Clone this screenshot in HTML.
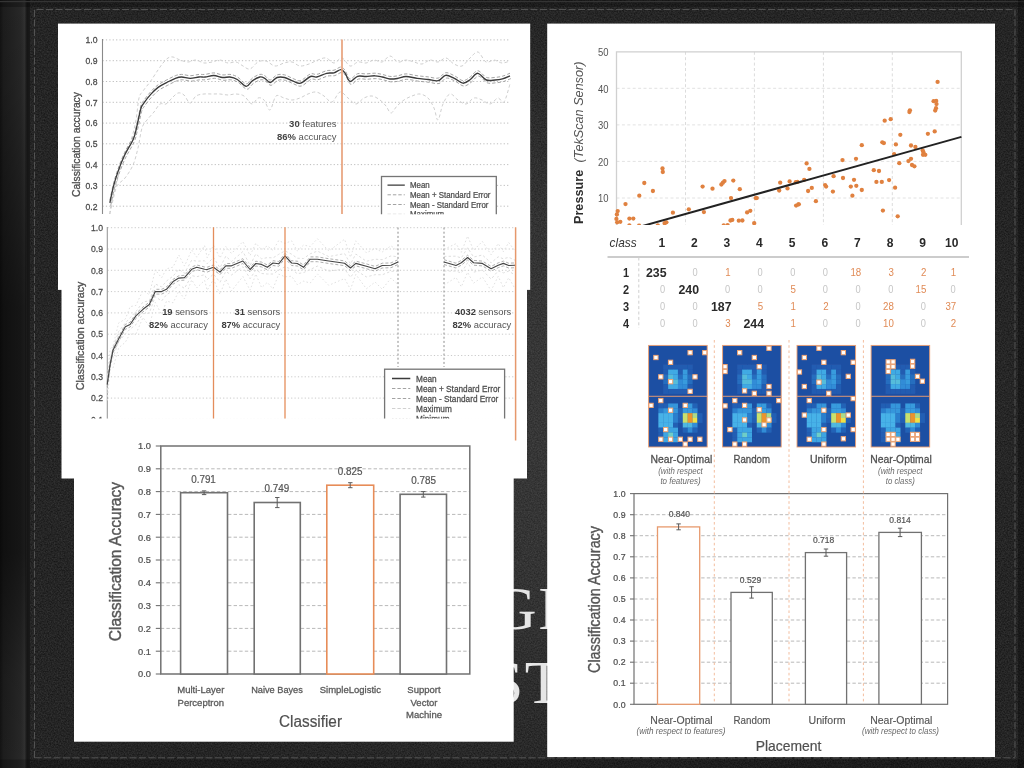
<!DOCTYPE html>
<html lang="en"><head><meta charset="utf-8"><title>Classification accuracy results</title>
<style>
html,body{margin:0;padding:0;width:1024px;height:768px;overflow:hidden;background:#262626;}
svg{position:absolute;left:0;top:0;display:block}
text{font-family:'Liberation Sans',sans-serif}
</style></head><body>
<svg width="1024" height="768" viewBox="0 0 1024 768">
<defs>
<filter id="leather" x="0" y="0" width="100%" height="100%" color-interpolation-filters="sRGB">
<feTurbulence type="fractalNoise" baseFrequency="0.7" numOctaves="2" seed="7" result="n"/>
<feColorMatrix in="n" type="matrix" values="0.17 0 0 0 0.06  0.17 0 0 0 0.06  0.17 0 0 0 0.06  0 0 0 0 1"/>
</filter>
<linearGradient id="bind" x1="0" x2="1" y1="0" y2="0">
<stop offset="0" stop-color="#131313"/><stop offset="0.12" stop-color="#1d1d1d"/>
<stop offset="0.45" stop-color="#232323"/><stop offset="0.7" stop-color="#282828"/><stop offset="0.82" stop-color="#313131"/>
<stop offset="0.9" stop-color="#151515"/><stop offset="1" stop-color="#1a1a1a"/>
</linearGradient>
<linearGradient id="bindv" x1="0" x2="0" y1="0" y2="1">
<stop offset="0" stop-color="#000" stop-opacity="0"/><stop offset="0.12" stop-color="#000" stop-opacity="0.08"/>
<stop offset="0.4" stop-color="#000" stop-opacity="0.45"/>
<stop offset="0.72" stop-color="#000" stop-opacity="0.45"/><stop offset="0.88" stop-color="#000" stop-opacity="0.08"/>
<stop offset="1" stop-color="#000" stop-opacity="0"/>
</linearGradient>
<radialGradient id="vig" gradientUnits="userSpaceOnUse" cx="535" cy="410" r="520" gradientTransform="translate(0 410) scale(1 0.82) translate(0 -410)">
<stop offset="0" stop-color="#fff" stop-opacity="0.085"/><stop offset="0.45" stop-color="#fff" stop-opacity="0.065"/>
<stop offset="0.85" stop-color="#fff" stop-opacity="0.012"/><stop offset="1" stop-color="#fff" stop-opacity="0"/>
</radialGradient>
<filter id="soft" filterUnits="userSpaceOnUse" x="0" y="0" width="1024" height="768"><feGaussianBlur stdDeviation="0.4"/></filter>
<filter id="soft2"><feGaussianBlur stdDeviation="0.5"/></filter>
<clipPath id="c1"><rect x="58" y="24" width="472" height="190.5"/></clipPath>
<clipPath id="c2"><rect x="61.5" y="214.5" width="465.5" height="264"/></clipPath>
<clipPath id="c2b"><rect x="61.5" y="214.5" width="465.5" height="204.2"/></clipPath>
<clipPath id="cs"><rect x="547.5" y="24" width="447.5" height="201"/></clipPath>
</defs>

<rect width="1024" height="768" fill="#252525"/>
<rect width="1024" height="768" filter="url(#leather)"/>
<rect width="1024" height="768" fill="url(#vig)"/>
<rect x="0" y="0" width="30" height="768" fill="url(#bind)"/>
<rect x="0" y="0" width="26" height="768" fill="url(#bindv)"/>
<rect x="0" y="0" width="1024" height="7" fill="#000" opacity="0.25"/>
<rect x="0" y="1" width="1024" height="1.2" fill="#343434"/>
<rect x="1018" y="0" width="6" height="768" fill="#000" opacity="0.3"/>
<rect x="0" y="759.5" width="1024" height="8.5" fill="#000" opacity="0.22"/>
<g stroke="#585858" stroke-width="1" fill="none" stroke-dasharray="7 2.5" opacity="0.9">
<path d="M34.5,758 V9.5 H1015 V758 "/><path d="M34.5,757.8 H1015"/>
</g>
<text x="491.7" y="629" font-size="62" fill="#e6e6e6" style="font-family:'Liberation Serif', serif" letter-spacing="1.5">GI</text>
<text x="488.7" y="703" font-size="62" fill="#e6e6e6" style="font-family:'Liberation Serif', serif" letter-spacing="1.5">ST</text>
<g filter="url(#soft)">
<rect x="58" y="23.6" width="472.2" height="266.3" fill="#fff"/>
<g clip-path="url(#c1)">
<line x1="102.5" x2="510" y1="39.9" y2="39.9" stroke="#b5b5b5" stroke-width="0.9" stroke-dasharray="1.2 2.2"/>
<text transform="translate(97.50,43.18) scale(0.95,1)" font-size="9.1" text-anchor="end" fill="#4a4a4a" stroke="#4a4a4a" stroke-width="0.25">1.0</text>
<line x1="102.5" x2="510" y1="60.7" y2="60.7" stroke="#b5b5b5" stroke-width="0.9" stroke-dasharray="1.2 2.2"/>
<text transform="translate(97.50,63.97) scale(0.95,1)" font-size="9.1" text-anchor="end" fill="#4a4a4a" stroke="#4a4a4a" stroke-width="0.25">0.9</text>
<line x1="102.5" x2="510" y1="81.5" y2="81.5" stroke="#b5b5b5" stroke-width="0.9" stroke-dasharray="1.2 2.2"/>
<text transform="translate(97.50,84.76) scale(0.95,1)" font-size="9.1" text-anchor="end" fill="#4a4a4a" stroke="#4a4a4a" stroke-width="0.25">0.8</text>
<line x1="102.5" x2="510" y1="102.3" y2="102.3" stroke="#b5b5b5" stroke-width="0.9" stroke-dasharray="1.2 2.2"/>
<text transform="translate(97.50,105.55) scale(0.95,1)" font-size="9.1" text-anchor="end" fill="#4a4a4a" stroke="#4a4a4a" stroke-width="0.25">0.7</text>
<line x1="102.5" x2="510" y1="123.1" y2="123.1" stroke="#b5b5b5" stroke-width="0.9" stroke-dasharray="1.2 2.2"/>
<text transform="translate(97.50,126.34) scale(0.95,1)" font-size="9.1" text-anchor="end" fill="#4a4a4a" stroke="#4a4a4a" stroke-width="0.25">0.6</text>
<line x1="102.5" x2="510" y1="143.8" y2="143.8" stroke="#b5b5b5" stroke-width="0.9" stroke-dasharray="1.2 2.2"/>
<text transform="translate(97.50,147.13) scale(0.95,1)" font-size="9.1" text-anchor="end" fill="#4a4a4a" stroke="#4a4a4a" stroke-width="0.25">0.5</text>
<line x1="102.5" x2="510" y1="164.6" y2="164.6" stroke="#b5b5b5" stroke-width="0.9" stroke-dasharray="1.2 2.2"/>
<text transform="translate(97.50,167.92) scale(0.95,1)" font-size="9.1" text-anchor="end" fill="#4a4a4a" stroke="#4a4a4a" stroke-width="0.25">0.4</text>
<line x1="102.5" x2="510" y1="185.4" y2="185.4" stroke="#b5b5b5" stroke-width="0.9" stroke-dasharray="1.2 2.2"/>
<text transform="translate(97.50,188.71) scale(0.95,1)" font-size="9.1" text-anchor="end" fill="#4a4a4a" stroke="#4a4a4a" stroke-width="0.25">0.3</text>
<line x1="102.5" x2="510" y1="206.2" y2="206.2" stroke="#b5b5b5" stroke-width="0.9" stroke-dasharray="1.2 2.2"/>
<text transform="translate(97.50,209.50) scale(0.95,1)" font-size="9.1" text-anchor="end" fill="#4a4a4a" stroke="#4a4a4a" stroke-width="0.25">0.2</text>
<line x1="102.5" x2="102.5" y1="39" y2="214" stroke="#8a8a8a" stroke-width="1.1"/>
<text transform="translate(80.00,144.50) rotate(-90) scale(0.93,1)" font-size="11.1" text-anchor="middle" fill="#505050" stroke="#505050" stroke-width="0.35">Calssification accuracy</text>
<path d="M109.5,214.0 C109.9,211.7 110.8,205.3 112.0,200.0 C113.2,194.7 115.3,188.7 117.0,182.0 C118.7,175.3 119.7,167.0 122.0,160.0 C124.3,153.0 128.7,146.7 131.0,140.0 C133.3,133.3 134.7,127.0 136.0,120.0 C137.3,113.0 137.8,102.8 139.0,98.0 C140.2,93.2 141.2,93.7 143.0,91.0 C144.8,88.3 147.5,85.5 150.0,82.0 C152.5,78.5 155.8,73.2 158.0,70.0 C160.2,66.8 161.3,65.0 163.0,63.0 C164.7,61.0 166.3,59.0 168.0,58.0 C169.7,57.0 171.0,56.7 173.0,57.0 C175.0,57.3 177.5,59.2 180.0,60.0 C182.5,60.8 185.3,62.0 188.0,62.0 C190.7,62.0 193.3,59.8 196.0,60.0 C198.7,60.2 201.3,62.7 204.0,63.0 C206.7,63.3 209.3,62.5 212.0,62.0 C214.7,61.5 217.3,59.8 220.0,60.0 C222.7,60.2 225.3,62.7 228.0,63.0 C230.7,63.3 233.5,61.5 236.0,62.0 C238.5,62.5 240.7,64.8 243.0,66.0 C245.3,67.2 247.5,69.7 250.0,69.0 C252.5,68.3 255.3,63.3 258.0,62.0 C260.7,60.7 263.2,60.3 266.0,61.0 C268.8,61.7 272.0,65.7 275.0,66.0 C278.0,66.3 281.2,63.7 284.0,63.0 C286.8,62.3 289.3,61.5 292.0,62.0 C294.7,62.5 297.2,65.7 300.0,66.0 C302.8,66.3 306.0,65.0 309.0,64.0 C312.0,63.0 315.2,61.0 318.0,60.0 C320.8,59.0 323.3,57.5 326.0,58.0 C328.7,58.5 331.3,63.0 334.0,63.0 C336.7,63.0 339.3,57.5 342.0,58.0 C344.7,58.5 347.3,65.3 350.0,66.0 C352.7,66.7 355.3,62.5 358.0,62.0 C360.7,61.5 363.3,63.3 366.0,63.0 C368.7,62.7 371.3,60.2 374.0,60.0 C376.7,59.8 379.3,62.7 382.0,62.0 C384.7,61.3 387.3,56.0 390.0,56.0 C392.7,56.0 395.3,61.3 398.0,62.0 C400.7,62.7 403.3,60.0 406.0,60.0 C408.7,60.0 411.3,61.3 414.0,62.0 C416.7,62.7 419.3,64.3 422.0,64.0 C424.7,63.7 427.3,60.3 430.0,60.0 C432.7,59.7 435.3,62.3 438.0,62.0 C440.7,61.7 443.3,57.7 446.0,58.0 C448.7,58.3 451.3,62.7 454.0,64.0 C456.7,65.3 459.3,67.0 462.0,66.0 C464.7,65.0 467.3,60.3 470.0,58.0 C472.7,55.7 475.3,51.3 478.0,52.0 C480.7,52.7 483.3,60.7 486.0,62.0 C488.7,63.3 491.3,59.8 494.0,60.0 C496.7,60.2 499.3,62.8 502.0,63.0 C504.7,63.2 508.7,61.3 510.0,61.0" fill="none" stroke="#cfcfcf" stroke-width="1" stroke-dasharray="3.2 2.4"/>
<path d="M110.0,214.0 C110.5,211.7 111.8,204.7 113.0,200.0 C114.2,195.3 115.0,189.7 117.0,186.0 C119.0,182.3 122.3,181.5 125.0,178.0 C127.7,174.5 130.8,170.0 133.0,165.0 C135.2,160.0 136.5,154.2 138.0,148.0 C139.5,141.8 140.5,132.7 142.0,128.0 C143.5,123.3 145.0,122.7 147.0,120.0 C149.0,117.3 151.8,114.7 154.0,112.0 C156.2,109.3 158.0,105.3 160.0,104.0 C162.0,102.7 164.0,105.0 166.0,104.0 C168.0,103.0 170.0,99.8 172.0,98.0 C174.0,96.2 176.0,93.5 178.0,93.0 C180.0,92.5 182.0,93.3 184.0,95.0 C186.0,96.7 188.0,102.8 190.0,103.0 C192.0,103.2 193.7,97.5 196.0,96.0 C198.3,94.5 201.3,94.3 204.0,94.0 C206.7,93.7 209.3,94.0 212.0,94.0 C214.7,94.0 217.3,93.8 220.0,94.0 C222.7,94.2 225.3,95.0 228.0,95.0 C230.7,95.0 233.3,93.8 236.0,94.0 C238.7,94.2 241.3,94.3 244.0,96.0 C246.7,97.7 249.7,103.7 252.0,104.0 C254.3,104.3 256.0,98.7 258.0,98.0 C260.0,97.3 262.0,98.0 264.0,100.0 C266.0,102.0 268.0,110.7 270.0,110.0 C272.0,109.3 273.7,98.0 276.0,96.0 C278.3,94.0 281.3,97.3 284.0,98.0 C286.7,98.7 289.3,100.0 292.0,100.0 C294.7,100.0 297.3,99.0 300.0,98.0 C302.7,97.0 305.3,95.0 308.0,94.0 C310.7,93.0 313.3,91.7 316.0,92.0 C318.7,92.3 321.3,94.3 324.0,96.0 C326.7,97.7 329.3,102.7 332.0,102.0 C334.7,101.3 337.3,92.7 340.0,92.0 C342.7,91.3 345.3,96.0 348.0,98.0 C350.7,100.0 353.3,104.0 356.0,104.0 C358.7,104.0 361.3,99.3 364.0,98.0 C366.7,96.7 369.3,95.7 372.0,96.0 C374.7,96.3 377.7,98.3 380.0,100.0 C382.3,101.7 384.2,103.8 386.0,106.0 C387.8,108.2 389.2,113.0 391.0,113.0 C392.8,113.0 394.8,108.2 397.0,106.0 C399.2,103.8 401.5,101.7 404.0,100.0 C406.5,98.3 409.3,97.0 412.0,96.0 C414.7,95.0 417.3,93.7 420.0,94.0 C422.7,94.3 425.7,95.7 428.0,98.0 C430.3,100.3 432.3,104.3 434.0,108.0 C435.7,111.7 436.5,120.7 438.0,120.0 C439.5,119.3 441.0,108.3 443.0,104.0 C445.0,99.7 447.5,94.7 450.0,94.0 C452.5,93.3 455.3,98.3 458.0,100.0 C460.7,101.7 463.3,104.3 466.0,104.0 C468.7,103.7 471.3,98.7 474.0,98.0 C476.7,97.3 479.3,99.0 482.0,100.0 C484.7,101.0 487.3,104.3 490.0,104.0 C492.7,103.7 495.7,98.3 498.0,98.0 C500.3,97.7 502.0,104.3 504.0,102.0 C506.0,99.7 509.0,87.0 510.0,84.0" fill="none" stroke="#cfcfcf" stroke-width="1" stroke-dasharray="3.2 2.4"/>
<path d="M109.9,200.2 C110.5,197.4 112.2,188.5 113.6,183.3 C114.9,178.1 116.2,174.2 118.0,169.0 C119.8,163.8 122.1,157.8 124.7,152.4 C127.3,147.0 131.3,141.2 133.4,136.3 C135.5,131.4 135.9,127.7 137.1,122.7 C138.3,117.7 139.8,109.7 140.8,106.1 C141.8,102.5 141.7,103.6 143.3,101.2 C145.0,98.8 148.2,94.5 150.7,91.8 C153.2,89.1 155.4,86.8 158.1,84.8 C160.8,82.8 163.9,81.4 166.8,79.9 C169.7,78.4 172.9,76.6 175.4,75.7 C177.9,74.8 179.1,74.4 181.6,74.4 C184.1,74.4 187.4,75.7 190.3,75.7 C193.2,75.7 196.5,74.6 199.0,74.4 C201.5,74.2 202.6,74.7 205.1,74.4 C207.6,74.2 210.9,72.8 213.8,72.9 C216.7,73.0 219.8,74.7 222.5,74.9 C225.2,75.2 227.4,74.1 229.9,74.4 C232.4,74.7 234.6,75.3 237.3,76.9 C240.0,78.5 243.7,83.6 246.2,83.8 C248.7,84.0 250.1,79.7 252.4,78.1 C254.7,76.5 257.7,74.8 259.8,74.4 C261.9,74.0 263.1,74.8 264.8,75.7 C266.5,76.6 268.1,80.0 270.2,79.9 C272.2,79.8 274.7,75.7 277.1,74.9 C279.5,74.1 281.9,74.3 284.6,74.9 C287.3,75.5 290.5,77.7 293.2,78.6 C295.9,79.6 297.7,81.4 300.6,80.6 C303.5,79.8 307.8,74.9 310.5,73.9 C313.2,72.9 314.0,74.9 316.7,74.4 C319.4,73.9 323.7,71.4 326.6,70.7 C329.5,70.0 331.6,70.8 334.0,70.2 C336.4,69.6 339.1,66.9 341.0,67.0 C342.9,67.1 343.7,68.7 345.2,70.7 C346.7,72.7 348.0,78.4 350.1,78.9 C352.2,79.4 354.9,74.5 357.6,73.7 C360.3,72.9 363.3,74.0 366.2,73.9 C369.1,73.8 372.2,73.1 374.9,73.2 C377.6,73.3 379.8,73.9 382.3,74.4 C384.8,74.9 387.4,76.2 389.9,76.4 C392.4,76.7 394.6,76.3 397.3,75.9 C400.0,75.5 402.7,73.9 406.0,73.9 C409.3,73.9 413.4,75.2 417.1,75.7 C420.8,76.2 424.8,76.5 428.3,76.9 C431.8,77.3 435.3,78.8 438.2,78.1 C441.1,77.4 442.9,73.1 445.6,72.7 C448.3,72.3 451.4,74.4 454.3,75.7 C457.2,77.0 460.2,80.4 462.9,80.6 C465.6,80.8 467.8,78.6 470.3,76.9 C472.8,75.2 475.1,70.6 477.8,70.7 C480.5,70.8 483.5,76.3 486.4,77.4 C489.3,78.5 492.4,77.6 495.1,77.4 C497.8,77.2 500.0,76.9 502.5,76.2 C505.0,75.5 508.8,73.7 510.0,73.2" fill="none" stroke="#9a9a9a" stroke-width="0.9" stroke-dasharray="3.4 2"/>
<path d="M110.7,205.6 C111.3,202.8 113.0,193.9 114.4,188.7 C115.7,183.5 116.9,179.6 118.8,174.4 C120.7,169.2 122.9,163.2 125.5,157.8 C128.1,152.4 132.1,146.7 134.2,141.7 C136.3,136.8 136.7,133.1 137.9,128.1 C139.1,123.1 140.6,115.1 141.6,111.5 C142.6,107.9 142.5,109.0 144.1,106.6 C145.8,104.2 149.0,99.9 151.5,97.2 C154.0,94.5 156.2,92.2 158.9,90.2 C161.6,88.2 164.7,86.8 167.6,85.3 C170.5,83.8 173.7,82.0 176.2,81.1 C178.7,80.2 179.9,79.8 182.4,79.8 C184.9,79.8 188.2,81.1 191.1,81.1 C194.0,81.1 197.3,80.0 199.8,79.8 C202.3,79.6 203.4,80.0 205.9,79.8 C208.4,79.5 211.7,78.2 214.6,78.3 C217.5,78.4 220.6,80.0 223.3,80.3 C226.0,80.5 228.2,79.5 230.7,79.8 C233.2,80.1 235.4,80.7 238.1,82.3 C240.8,83.9 244.5,89.0 247.0,89.2 C249.5,89.4 250.9,85.1 253.2,83.5 C255.5,81.9 258.5,80.2 260.6,79.8 C262.7,79.4 263.9,80.2 265.6,81.1 C267.3,82.0 268.9,85.4 271.0,85.3 C273.1,85.2 275.5,81.1 277.9,80.3 C280.3,79.5 282.7,79.7 285.4,80.3 C288.1,80.9 291.3,83.0 294.0,84.0 C296.7,85.0 298.5,86.8 301.4,86.0 C304.3,85.2 308.6,80.3 311.3,79.3 C314.0,78.3 314.8,80.3 317.5,79.8 C320.2,79.3 324.5,76.8 327.4,76.1 C330.3,75.4 332.4,76.2 334.8,75.6 C337.2,75.0 339.9,72.3 341.8,72.4 C343.7,72.5 344.5,74.1 346.0,76.1 C347.5,78.1 348.8,83.8 350.9,84.3 C353.0,84.8 355.7,79.9 358.4,79.1 C361.1,78.3 364.1,79.4 367.0,79.3 C369.9,79.2 373.0,78.5 375.7,78.6 C378.4,78.7 380.6,79.3 383.1,79.8 C385.6,80.3 388.2,81.5 390.7,81.8 C393.2,82.0 395.4,81.7 398.1,81.3 C400.8,80.9 403.5,79.3 406.8,79.3 C410.1,79.3 414.2,80.6 417.9,81.1 C421.6,81.6 425.6,81.9 429.1,82.3 C432.6,82.7 436.1,84.2 439.0,83.5 C441.9,82.8 443.7,78.5 446.4,78.1 C449.1,77.7 452.2,79.8 455.1,81.1 C458.0,82.4 461.0,85.8 463.7,86.0 C466.4,86.2 468.6,84.0 471.1,82.3 C473.6,80.6 475.9,76.0 478.6,76.1 C481.3,76.2 484.3,81.7 487.2,82.8 C490.1,83.9 493.2,83.0 495.9,82.8 C498.6,82.6 500.8,82.3 503.3,81.6 C505.8,80.9 509.6,79.1 510.8,78.6" fill="none" stroke="#9a9a9a" stroke-width="0.9" stroke-dasharray="3.4 2"/>
<path d="M109.9,202.8 C110.5,200.0 112.2,191.1 113.6,185.9 C114.9,180.7 116.2,176.8 118.0,171.6 C119.8,166.4 122.1,160.4 124.7,155.0 C127.3,149.6 131.3,143.8 133.4,138.9 C135.5,134.0 135.9,130.3 137.1,125.3 C138.3,120.3 139.8,112.3 140.8,108.7 C141.8,105.1 141.7,106.2 143.3,103.8 C145.0,101.4 148.2,97.1 150.7,94.4 C153.2,91.7 155.4,89.4 158.1,87.4 C160.8,85.4 163.9,84.0 166.8,82.5 C169.7,81.0 172.9,79.2 175.4,78.3 C177.9,77.4 179.1,77.0 181.6,77.0 C184.1,77.0 187.4,78.3 190.3,78.3 C193.2,78.3 196.5,77.2 199.0,77.0 C201.5,76.8 202.6,77.2 205.1,77.0 C207.6,76.8 210.9,75.4 213.8,75.5 C216.7,75.6 219.8,77.2 222.5,77.5 C225.2,77.8 227.4,76.7 229.9,77.0 C232.4,77.3 234.6,77.9 237.3,79.5 C240.0,81.1 243.7,86.2 246.2,86.4 C248.7,86.6 250.1,82.3 252.4,80.7 C254.7,79.1 257.7,77.4 259.8,77.0 C261.9,76.6 263.1,77.4 264.8,78.3 C266.5,79.2 268.1,82.6 270.2,82.5 C272.2,82.4 274.7,78.3 277.1,77.5 C279.5,76.7 281.9,76.9 284.6,77.5 C287.3,78.1 290.5,80.2 293.2,81.2 C295.9,82.2 297.7,84.0 300.6,83.2 C303.5,82.4 307.8,77.5 310.5,76.5 C313.2,75.5 314.0,77.5 316.7,77.0 C319.4,76.5 323.7,74.0 326.6,73.3 C329.5,72.6 331.6,73.4 334.0,72.8 C336.4,72.2 339.1,69.5 341.0,69.6 C342.9,69.7 343.7,71.3 345.2,73.3 C346.7,75.3 348.0,81.0 350.1,81.5 C352.2,82.0 354.9,77.1 357.6,76.3 C360.3,75.5 363.3,76.6 366.2,76.5 C369.1,76.4 372.2,75.7 374.9,75.8 C377.6,75.9 379.8,76.5 382.3,77.0 C384.8,77.5 387.4,78.8 389.9,79.0 C392.4,79.2 394.6,78.9 397.3,78.5 C400.0,78.1 402.7,76.5 406.0,76.5 C409.3,76.5 413.4,77.8 417.1,78.3 C420.8,78.8 424.8,79.1 428.3,79.5 C431.8,79.9 435.3,81.4 438.2,80.7 C441.1,80.0 442.9,75.7 445.6,75.3 C448.3,74.9 451.4,77.0 454.3,78.3 C457.2,79.6 460.2,83.0 462.9,83.2 C465.6,83.4 467.8,81.2 470.3,79.5 C472.8,77.8 475.1,73.2 477.8,73.3 C480.5,73.4 483.5,78.9 486.4,80.0 C489.3,81.1 492.4,80.2 495.1,80.0 C497.8,79.8 500.0,79.5 502.5,78.8 C505.0,78.1 508.8,76.3 510.0,75.8" fill="none" stroke="#3a3a3a" stroke-width="1.35" stroke-linejoin="round"/>
<line x1="342" x2="342" y1="39.5" y2="214" stroke="#e8a27c" stroke-width="1.7"/>
<text transform="translate(336.50,127.20) scale(1.02,1)" font-size="9.3" text-anchor="end" fill="#555"><tspan font-weight="bold" fill="#444">30</tspan> features</text>
<text transform="translate(336.50,139.60) scale(1.02,1)" font-size="9.3" text-anchor="end" fill="#555"><tspan font-weight="bold" fill="#444">86%</tspan> accuracy</text>
<rect x="381.5" y="176.5" width="114.8" height="60" fill="#fff" stroke="#747474" stroke-width="1.3"/>
<line x1="387.5" x2="404.8" y1="185.1" y2="185.1" stroke="#3a3a3a" stroke-width="1.4"/>
<text transform="translate(410.00,188.12) scale(0.94,1)" font-size="8.4" text-anchor="start" fill="#4d4d4d" stroke="#4d4d4d" stroke-width="0.25">Mean</text>
<line x1="387.5" x2="404.8" y1="194.8" y2="194.8" stroke="#999" stroke-width="0.9" stroke-dasharray="3.4 2"/>
<text transform="translate(410.00,197.82) scale(0.94,1)" font-size="8.4" text-anchor="start" fill="#4d4d4d" stroke="#4d4d4d" stroke-width="0.25">Mean + Standard Error</text>
<line x1="387.5" x2="404.8" y1="204.5" y2="204.5" stroke="#999" stroke-width="0.9" stroke-dasharray="3.4 2"/>
<text transform="translate(410.00,207.52) scale(0.94,1)" font-size="8.4" text-anchor="start" fill="#4d4d4d" stroke="#4d4d4d" stroke-width="0.25">Mean - Standard Error</text>
<line x1="387.5" x2="404.8" y1="214.2" y2="214.2" stroke="#ccc" stroke-width="0.9" stroke-dasharray="3.4 2"/>
<text transform="translate(410.00,217.22) scale(0.94,1)" font-size="8.4" text-anchor="start" fill="#4d4d4d" stroke="#4d4d4d" stroke-width="0.25">Maximum</text>
<line x1="387.5" x2="404.8" y1="223.9" y2="223.9" stroke="#ddd" stroke-width="0.9" stroke-dasharray="1.5 2"/>
<text transform="translate(410.00,226.92) scale(0.94,1)" font-size="8.4" text-anchor="start" fill="#4d4d4d" stroke="#4d4d4d" stroke-width="0.25">Minimum</text>
</g>
<rect x="61.5" y="214.5" width="465.5" height="264" fill="#fff"/>
<g clip-path="url(#c2b)">
<line x1="107.5" x2="516" y1="227.7" y2="227.7" stroke="#c4c4c4" stroke-width="0.9" stroke-dasharray="1.2 2.2"/>
<text transform="translate(103.00,230.98) scale(0.95,1)" font-size="9.1" text-anchor="end" fill="#4d4d4d" stroke="#4d4d4d" stroke-width="0.25">1.0</text>
<line x1="107.5" x2="516" y1="249.0" y2="249.0" stroke="#c4c4c4" stroke-width="0.9" stroke-dasharray="1.2 2.2"/>
<text transform="translate(103.00,252.28) scale(0.95,1)" font-size="9.1" text-anchor="end" fill="#4d4d4d" stroke="#4d4d4d" stroke-width="0.25">0.9</text>
<line x1="107.5" x2="516" y1="270.3" y2="270.3" stroke="#c4c4c4" stroke-width="0.9" stroke-dasharray="1.2 2.2"/>
<text transform="translate(103.00,273.58) scale(0.95,1)" font-size="9.1" text-anchor="end" fill="#4d4d4d" stroke="#4d4d4d" stroke-width="0.25">0.8</text>
<line x1="107.5" x2="516" y1="291.6" y2="291.6" stroke="#c4c4c4" stroke-width="0.9" stroke-dasharray="1.2 2.2"/>
<text transform="translate(103.00,294.88) scale(0.95,1)" font-size="9.1" text-anchor="end" fill="#4d4d4d" stroke="#4d4d4d" stroke-width="0.25">0.7</text>
<line x1="107.5" x2="516" y1="312.9" y2="312.9" stroke="#c4c4c4" stroke-width="0.9" stroke-dasharray="1.2 2.2"/>
<text transform="translate(103.00,316.18) scale(0.95,1)" font-size="9.1" text-anchor="end" fill="#4d4d4d" stroke="#4d4d4d" stroke-width="0.25">0.6</text>
<line x1="107.5" x2="516" y1="334.2" y2="334.2" stroke="#c4c4c4" stroke-width="0.9" stroke-dasharray="1.2 2.2"/>
<text transform="translate(103.00,337.48) scale(0.95,1)" font-size="9.1" text-anchor="end" fill="#4d4d4d" stroke="#4d4d4d" stroke-width="0.25">0.5</text>
<line x1="107.5" x2="516" y1="355.5" y2="355.5" stroke="#c4c4c4" stroke-width="0.9" stroke-dasharray="1.2 2.2"/>
<text transform="translate(103.00,358.78) scale(0.95,1)" font-size="9.1" text-anchor="end" fill="#4d4d4d" stroke="#4d4d4d" stroke-width="0.25">0.4</text>
<line x1="107.5" x2="516" y1="376.8" y2="376.8" stroke="#c4c4c4" stroke-width="0.9" stroke-dasharray="1.2 2.2"/>
<text transform="translate(103.00,380.08) scale(0.95,1)" font-size="9.1" text-anchor="end" fill="#4d4d4d" stroke="#4d4d4d" stroke-width="0.25">0.3</text>
<line x1="107.5" x2="516" y1="398.1" y2="398.1" stroke="#c4c4c4" stroke-width="0.9" stroke-dasharray="1.2 2.2"/>
<text transform="translate(103.00,401.38) scale(0.95,1)" font-size="9.1" text-anchor="end" fill="#4d4d4d" stroke="#4d4d4d" stroke-width="0.25">0.2</text>
<line x1="107.5" x2="516" y1="419.4" y2="419.4" stroke="#c4c4c4" stroke-width="0.9" stroke-dasharray="1.2 2.2"/>
<text transform="translate(103.00,422.68) scale(0.95,1)" font-size="9.1" text-anchor="end" fill="#4d4d4d" stroke="#4d4d4d" stroke-width="0.25">0.1</text>
<line x1="107.3" x2="107.3" y1="227" y2="419" stroke="#9a9a9a" stroke-width="1.1"/>
<text transform="translate(83.80,336.00) rotate(-90) scale(0.93,1)" font-size="11.5" text-anchor="middle" fill="#505050" stroke="#505050" stroke-width="0.35">Classification accuracy</text>
<line x1="398" x2="398" y1="227.5" y2="367" stroke="#8c8c8c" stroke-width="1" stroke-dasharray="2 2.2"/>
<line x1="444" x2="444" y1="227.5" y2="367" stroke="#8c8c8c" stroke-width="1" stroke-dasharray="2 2.2"/>
<path d="M107.2,378.7 L110.1,349.2 L113.0,346.0 L118.7,322.9 L125.3,319.1 L130.1,306.7 L135.9,305.4 L143.0,290.4 L149.3,294.7 L155.3,269.9 L161.6,277.8 L166.5,268.8 L173.1,267.1 L178.8,255.0 L184.5,266.1 L191.7,250.0 L196.8,257.2 L204.6,245.5 L207.2,257.8 L213.5,245.2 L220.0,258.0 L225.8,246.6 L231.5,253.5 L242.9,241.6 L250.1,255.5 L255.8,243.2 L261.6,249.6 L267.3,245.9 L273.0,250.3 L278.7,240.6 L285.0,243.4 L291.6,240.8 L297.3,251.0 L303.6,245.0 L310.2,246.5 L317.4,238.7 L328.8,251.0 L344.6,239.2 L350.5,257.2 L355.8,240.8 L366.4,252.8 L375.1,248.5 L382.2,252.0 L391.0,245.8 L398.0,250.9" fill="none" stroke="#e0e0e0" stroke-width="1" stroke-dasharray="1.6 2.2"/>
<path d="M107.2,400.5 L110.1,369.7 L113.0,368.0 L118.7,347.8 L125.3,342.3 L130.1,333.6 L135.9,334.1 L143.0,317.5 L149.3,326.6 L155.3,302.4 L161.6,314.5 L166.5,301.1 L173.1,302.8 L178.8,291.2 L184.5,298.9 L191.7,279.8 L196.8,288.0 L204.6,280.3 L207.2,290.3 L213.5,279.1 L220.0,294.4 L225.8,279.1 L231.5,290.9 L242.9,276.5 L250.1,290.2 L255.8,274.0 L261.6,287.6 L267.3,282.4 L273.0,288.9 L278.7,274.1 L285.0,276.8 L291.6,276.2 L297.3,284.7 L303.6,281.1 L310.2,283.1 L317.4,273.9 L328.8,285.3 L344.6,278.5 L350.5,289.4 L355.8,274.4 L366.4,288.8 L375.1,282.0 L382.2,289.2 L391.0,278.1 L398.0,284.6" fill="none" stroke="#e0e0e0" stroke-width="1" stroke-dasharray="1.6 2.2"/>
<path d="M107.2,381.8 L110.1,357.9 L113.0,348.2 L118.7,331.4 L125.3,323.0 L130.1,317.8 L135.9,311.6 L143.0,302.0 L149.3,300.8 L155.3,284.0 L161.6,286.9 L166.5,281.0 L173.1,276.1 L178.8,269.3 L184.5,273.3 L191.7,260.1 L196.8,261.2 L204.6,260.8 L207.2,263.7 L213.5,257.6 L220.0,267.7 L225.8,256.2 L231.5,261.4 L242.9,251.5 L250.1,265.4 L255.8,253.9 L261.6,258.8 L267.3,257.6 L273.0,257.9 L278.7,254.3 L285.0,250.9 L291.6,254.2 L297.3,258.2 L303.6,258.5 L310.2,253.8 L317.4,251.1 L328.8,256.6 L344.6,253.6 L350.5,264.0 L355.8,254.0 L366.4,261.3 L375.1,259.2 L382.2,259.7 L391.0,255.9 L398.0,256.8" fill="none" stroke="#dedede" stroke-width="1" stroke-dasharray="2.4 2.2"/>
<path d="M107.2,390.5 L110.1,367.2 L113.0,357.7 L118.7,341.3 L125.3,334.0 L130.1,329.1 L135.9,324.7 L143.0,313.7 L149.3,313.1 L155.3,296.6 L161.6,301.0 L166.5,294.7 L173.1,290.7 L178.8,284.7 L184.5,288.4 L191.7,275.6 L196.8,276.7 L204.6,274.7 L207.2,279.7 L213.5,274.1 L220.0,282.2 L225.8,271.5 L231.5,275.0 L242.9,266.7 L250.1,278.7 L255.8,269.9 L261.6,273.5 L267.3,274.0 L273.0,274.0 L278.7,270.1 L285.0,266.8 L291.6,269.2 L297.3,273.7 L303.6,272.6 L310.2,269.5 L317.4,266.1 L328.8,271.1 L344.6,269.0 L350.5,277.3 L355.8,270.3 L366.4,276.9 L375.1,274.7 L382.2,274.8 L391.0,271.3 L398.0,271.4" fill="none" stroke="#dedede" stroke-width="1" stroke-dasharray="2.4 2.2"/>
<path d="M107.2,382.3 L110.1,362.3 L113.0,348.0 L118.7,336.5 L125.3,324.5 L130.1,322.2 L135.9,313.6 L143.0,307.0 L149.3,302.2 L155.3,289.3 L161.6,289.3 L166.5,287.0 L173.1,279.3 L178.8,275.8 L184.5,275.3 L191.7,267.0 L196.8,265.0 L204.6,267.0 L207.2,267.2 L213.5,265.0 L220.0,269.8 L225.8,263.5 L231.5,263.5 L242.9,258.7 L250.1,267.2 L255.8,261.2 L261.6,262.1 L267.3,265.0 L273.0,260.7 L278.7,261.5 L285.0,253.5 L291.6,260.7 L297.3,261.2 L303.6,265.0 L310.2,256.9 L317.4,256.9 L328.8,258.7 L344.6,260.9 L350.5,265.7 L355.8,261.1 L366.4,263.9 L375.1,266.4 L382.2,263.2 L391.0,262.9 L398.0,259.7" fill="none" stroke="#a6a6a6" stroke-width="0.9" stroke-dasharray="3 2"/>
<path d="M107.2,387.1 L110.1,367.1 L113.0,352.8 L118.7,341.3 L125.3,329.3 L130.1,327.0 L135.9,318.4 L143.0,311.8 L149.3,307.0 L155.3,294.1 L161.6,294.1 L166.5,291.8 L173.1,284.1 L178.8,280.6 L184.5,280.1 L191.7,271.8 L196.8,269.8 L204.6,271.8 L207.2,272.0 L213.5,269.8 L220.0,274.6 L225.8,268.3 L231.5,268.3 L242.9,263.5 L250.1,272.0 L255.8,266.0 L261.6,266.9 L267.3,269.8 L273.0,265.5 L278.7,266.3 L285.0,258.3 L291.6,265.5 L297.3,266.0 L303.6,269.8 L310.2,261.7 L317.4,261.7 L328.8,263.5 L344.6,265.7 L350.5,270.5 L355.8,265.9 L366.4,268.7 L375.1,271.2 L382.2,268.0 L391.0,267.7 L398.0,264.5" fill="none" stroke="#a6a6a6" stroke-width="0.9" stroke-dasharray="3 2"/>
<path d="M107.2,384.6 L110.1,364.6 L113.0,350.3 L118.7,338.8 L125.3,326.8 L130.1,324.5 L135.9,315.9 L143.0,309.3 L149.3,304.5 L155.3,291.6 L161.6,291.6 L166.5,289.3 L173.1,281.6 L178.8,278.1 L184.5,277.6 L191.7,269.3 L196.8,267.3 L204.6,269.3 L207.2,269.5 L213.5,267.3 L220.0,272.1 L225.8,265.8 L231.5,265.8 L242.9,261.0 L250.1,269.5 L255.8,263.5 L261.6,264.4 L267.3,267.3 L273.0,263.0 L278.7,263.8 L285.0,255.8 L291.6,263.0 L297.3,263.5 L303.6,267.3 L310.2,259.2 L317.4,259.2 L328.8,261.0 L344.6,263.2 L350.5,268.0 L355.8,263.4 L366.4,266.2 L375.1,268.7 L382.2,265.5 L391.0,265.2 L398.0,262.0" fill="none" stroke="#444" stroke-width="1.15" stroke-linejoin="round"/>
<path d="M444.0,249.3 L456.0,243.7 L461.3,252.3 L467.6,236.1 L473.6,250.3 L482.4,241.4 L491.1,254.7 L498.2,243.6 L503.4,251.6 L508.7,242.5 L515.0,250.8" fill="none" stroke="#e0e0e0" stroke-width="1" stroke-dasharray="1.6 2.2"/>
<path d="M444.0,285.1 L456.0,277.4 L461.3,286.8 L467.6,272.3 L473.6,283.2 L482.4,276.9 L491.1,290.6 L498.2,276.3 L503.4,287.7 L508.7,277.7 L515.0,288.7" fill="none" stroke="#e0e0e0" stroke-width="1" stroke-dasharray="1.6 2.2"/>
<path d="M444.0,256.4 L456.0,256.2 L461.3,258.0 L467.6,247.8 L473.6,257.0 L482.4,255.0 L491.1,262.9 L498.2,256.8 L503.4,258.8 L508.7,257.3 L515.0,260.2" fill="none" stroke="#dedede" stroke-width="1" stroke-dasharray="2.4 2.2"/>
<path d="M444.0,271.1 L456.0,271.1 L461.3,273.0 L467.6,262.6 L473.6,272.2 L482.4,270.0 L491.1,279.1 L498.2,270.9 L503.4,272.9 L508.7,271.2 L515.0,274.9" fill="none" stroke="#dedede" stroke-width="1" stroke-dasharray="2.4 2.2"/>
<path d="M444.0,259.7 L456.0,263.2 L461.3,260.4 L467.6,255.2 L473.6,260.4 L482.4,261.1 L491.1,266.4 L498.2,262.9 L503.4,261.1 L508.7,263.2 L515.0,262.9" fill="none" stroke="#a6a6a6" stroke-width="0.9" stroke-dasharray="3 2"/>
<path d="M444.0,264.5 L456.0,268.0 L461.3,265.2 L467.6,260.0 L473.6,265.2 L482.4,265.9 L491.1,271.2 L498.2,267.7 L503.4,265.9 L508.7,268.0 L515.0,267.7" fill="none" stroke="#a6a6a6" stroke-width="0.9" stroke-dasharray="3 2"/>
<path d="M444.0,262.0 L456.0,265.5 L461.3,262.7 L467.6,257.5 L473.6,262.7 L482.4,263.4 L491.1,268.7 L498.2,265.2 L503.4,263.4 L508.7,265.5 L515.0,265.2" fill="none" stroke="#444" stroke-width="1.15" stroke-linejoin="round"/>
<line x1="213.5" x2="213.5" y1="227.3" y2="419" stroke="#e07a3f" stroke-width="1.3" opacity="0.85"/>
<line x1="285" x2="285" y1="227.3" y2="419" stroke="#e07a3f" stroke-width="1.3" opacity="0.85"/>
<text transform="translate(208.00,315.20)" font-size="9.4" text-anchor="end" fill="#555"><tspan font-weight="bold" fill="#3c3c3c">19</tspan> sensors</text>
<text transform="translate(208.00,328.30)" font-size="9.4" text-anchor="end" fill="#555"><tspan font-weight="bold" fill="#3c3c3c">82%</tspan> accuracy</text>
<text transform="translate(280.30,315.20)" font-size="9.4" text-anchor="end" fill="#555"><tspan font-weight="bold" fill="#3c3c3c">31</tspan> sensors</text>
<text transform="translate(280.30,328.30)" font-size="9.4" text-anchor="end" fill="#555"><tspan font-weight="bold" fill="#3c3c3c">87%</tspan> accuracy</text>
<text transform="translate(511.30,315.20)" font-size="9.4" text-anchor="end" fill="#555"><tspan font-weight="bold" fill="#3c3c3c">4032</tspan> sensors</text>
<text transform="translate(511.30,328.30)" font-size="9.4" text-anchor="end" fill="#555"><tspan font-weight="bold" fill="#3c3c3c">82%</tspan> accuracy</text>
<rect x="384.6" y="369.2" width="120" height="60" fill="#fff" stroke="#747474" stroke-width="1.3"/>
<line x1="392" x2="410.3" y1="378.5" y2="378.5" stroke="#3a3a3a" stroke-width="1.4"/>
<text transform="translate(416.00,381.52) scale(0.985,1)" font-size="8.4" text-anchor="start" fill="#4d4d4d" stroke="#4d4d4d" stroke-width="0.25">Mean</text>
<line x1="392" x2="410.3" y1="388.5" y2="388.5" stroke="#999" stroke-width="0.9" stroke-dasharray="3.4 2"/>
<text transform="translate(416.00,391.52) scale(0.985,1)" font-size="8.4" text-anchor="start" fill="#4d4d4d" stroke="#4d4d4d" stroke-width="0.25">Mean + Standard Error</text>
<line x1="392" x2="410.3" y1="398.5" y2="398.5" stroke="#999" stroke-width="0.9" stroke-dasharray="3.4 2"/>
<text transform="translate(416.00,401.52) scale(0.985,1)" font-size="8.4" text-anchor="start" fill="#4d4d4d" stroke="#4d4d4d" stroke-width="0.25">Mean - Standard Error</text>
<line x1="392" x2="410.3" y1="408.5" y2="408.5" stroke="#ccc" stroke-width="0.9" stroke-dasharray="3.4 2"/>
<text transform="translate(416.00,411.52) scale(0.985,1)" font-size="8.4" text-anchor="start" fill="#4d4d4d" stroke="#4d4d4d" stroke-width="0.25">Maximum</text>
<line x1="392" x2="410.3" y1="418.5" y2="418.5" stroke="#ddd" stroke-width="0.9" stroke-dasharray="1.5 2"/>
<text transform="translate(416.00,421.52) scale(0.985,1)" font-size="8.4" text-anchor="start" fill="#4d4d4d" stroke="#4d4d4d" stroke-width="0.25">Minimum</text>
</g>
<line x1="515.6" x2="515.6" y1="227.3" y2="440.5" stroke="#e6986c" stroke-width="1.5"/>
<rect x="74" y="418.7" width="439.7" height="323" fill="#fff"/>
<line x1="155.8" x2="160.8" y1="446.0" y2="446.0" stroke="#717171" stroke-width="1.1"/>
<text transform="translate(151.00,449.46) scale(0.97,1)" font-size="9.6" text-anchor="end" fill="#505050" stroke="#505050" stroke-width="0.25">1.0</text>
<line x1="160.8" x2="469.8" y1="468.8" y2="468.8" stroke="#b9b9b9" stroke-width="1" stroke-dasharray="3.4 2.2"/>
<line x1="155.8" x2="160.8" y1="468.8" y2="468.8" stroke="#717171" stroke-width="1.1"/>
<text transform="translate(151.00,472.26) scale(0.97,1)" font-size="9.6" text-anchor="end" fill="#505050" stroke="#505050" stroke-width="0.25">0.9</text>
<line x1="160.8" x2="469.8" y1="491.6" y2="491.6" stroke="#b9b9b9" stroke-width="1" stroke-dasharray="3.4 2.2"/>
<line x1="155.8" x2="160.8" y1="491.6" y2="491.6" stroke="#717171" stroke-width="1.1"/>
<text transform="translate(151.00,495.06) scale(0.97,1)" font-size="9.6" text-anchor="end" fill="#505050" stroke="#505050" stroke-width="0.25">0.8</text>
<line x1="160.8" x2="469.8" y1="514.4" y2="514.4" stroke="#b9b9b9" stroke-width="1" stroke-dasharray="3.4 2.2"/>
<line x1="155.8" x2="160.8" y1="514.4" y2="514.4" stroke="#717171" stroke-width="1.1"/>
<text transform="translate(151.00,517.86) scale(0.97,1)" font-size="9.6" text-anchor="end" fill="#505050" stroke="#505050" stroke-width="0.25">0.7</text>
<line x1="160.8" x2="469.8" y1="537.2" y2="537.2" stroke="#b9b9b9" stroke-width="1" stroke-dasharray="3.4 2.2"/>
<line x1="155.8" x2="160.8" y1="537.2" y2="537.2" stroke="#717171" stroke-width="1.1"/>
<text transform="translate(151.00,540.66) scale(0.97,1)" font-size="9.6" text-anchor="end" fill="#505050" stroke="#505050" stroke-width="0.25">0.6</text>
<line x1="160.8" x2="469.8" y1="560.0" y2="560.0" stroke="#b9b9b9" stroke-width="1" stroke-dasharray="3.4 2.2"/>
<line x1="155.8" x2="160.8" y1="560.0" y2="560.0" stroke="#717171" stroke-width="1.1"/>
<text transform="translate(151.00,563.46) scale(0.97,1)" font-size="9.6" text-anchor="end" fill="#505050" stroke="#505050" stroke-width="0.25">0.5</text>
<line x1="160.8" x2="469.8" y1="582.8" y2="582.8" stroke="#b9b9b9" stroke-width="1" stroke-dasharray="3.4 2.2"/>
<line x1="155.8" x2="160.8" y1="582.8" y2="582.8" stroke="#717171" stroke-width="1.1"/>
<text transform="translate(151.00,586.26) scale(0.97,1)" font-size="9.6" text-anchor="end" fill="#505050" stroke="#505050" stroke-width="0.25">0.4</text>
<line x1="160.8" x2="469.8" y1="605.6" y2="605.6" stroke="#b9b9b9" stroke-width="1" stroke-dasharray="3.4 2.2"/>
<line x1="155.8" x2="160.8" y1="605.6" y2="605.6" stroke="#717171" stroke-width="1.1"/>
<text transform="translate(151.00,609.06) scale(0.97,1)" font-size="9.6" text-anchor="end" fill="#505050" stroke="#505050" stroke-width="0.25">0.3</text>
<line x1="160.8" x2="469.8" y1="628.4" y2="628.4" stroke="#b9b9b9" stroke-width="1" stroke-dasharray="3.4 2.2"/>
<line x1="155.8" x2="160.8" y1="628.4" y2="628.4" stroke="#717171" stroke-width="1.1"/>
<text transform="translate(151.00,631.86) scale(0.97,1)" font-size="9.6" text-anchor="end" fill="#505050" stroke="#505050" stroke-width="0.25">0.2</text>
<line x1="160.8" x2="469.8" y1="651.2" y2="651.2" stroke="#b9b9b9" stroke-width="1" stroke-dasharray="3.4 2.2"/>
<line x1="155.8" x2="160.8" y1="651.2" y2="651.2" stroke="#717171" stroke-width="1.1"/>
<text transform="translate(151.00,654.66) scale(0.97,1)" font-size="9.6" text-anchor="end" fill="#505050" stroke="#505050" stroke-width="0.25">0.1</text>
<line x1="155.8" x2="160.8" y1="674.0" y2="674.0" stroke="#717171" stroke-width="1.1"/>
<text transform="translate(151.00,677.46) scale(0.97,1)" font-size="9.6" text-anchor="end" fill="#505050" stroke="#505050" stroke-width="0.25">0.0</text>
<rect x="160.8" y="446" width="309.0" height="228" fill="none" stroke="#717171" stroke-width="1.5"/>
<rect x="180.6" y="492.7" width="46.9" height="181.3" fill="#fff" stroke="#717171" stroke-width="1.6"/>
<path d="M204.1,490.9 V494.6 M201.9,490.9 h4.4 M201.9,494.6 h4.4" stroke="#5a5a5a" stroke-width="1" fill="none"/>
<text transform="translate(203.50,483.07) scale(0.97,1)" font-size="10.2" text-anchor="middle" fill="#555" stroke="#555" stroke-width="0.2">0.791</text>
<rect x="254.2" y="502.5" width="46.1" height="171.5" fill="#fff" stroke="#717171" stroke-width="1.6"/>
<path d="M277.2,497.5 V507.6 M275.1,497.5 h4.4 M275.1,507.6 h4.4" stroke="#5a5a5a" stroke-width="1" fill="none"/>
<text transform="translate(276.90,492.47) scale(0.97,1)" font-size="10.2" text-anchor="middle" fill="#555" stroke="#555" stroke-width="0.2">0.749</text>
<rect x="326.8" y="485.2" width="46.9" height="188.8" fill="#fff" stroke="#e78c58" stroke-width="1.6"/>
<path d="M350.2,482.7 V487.7 M348.1,482.7 h4.4 M348.1,487.7 h4.4" stroke="#5a5a5a" stroke-width="1" fill="none"/>
<text transform="translate(350.20,474.67) scale(0.97,1)" font-size="10.2" text-anchor="middle" fill="#555" stroke="#555" stroke-width="0.2">0.825</text>
<rect x="400.1" y="494.3" width="46.4" height="179.7" fill="#fff" stroke="#717171" stroke-width="1.6"/>
<path d="M423.3,491.6 V497.1 M421.1,491.6 h4.4 M421.1,497.1 h4.4" stroke="#5a5a5a" stroke-width="1" fill="none"/>
<text transform="translate(423.60,484.17) scale(0.97,1)" font-size="10.2" text-anchor="middle" fill="#555" stroke="#555" stroke-width="0.2">0.785</text>
<text transform="translate(121.30,561.60) rotate(-90)" font-size="16.2" text-anchor="middle" fill="#555" textLength="159.5" lengthAdjust="spacingAndGlyphs" stroke="#555" stroke-width="0.4">Classification Accuracy</text>
<text transform="translate(200.80,693.49) scale(0.98,1)" font-size="9.7" text-anchor="middle" fill="#5a5a5a" stroke="#5a5a5a" stroke-width="0.3">Multi-Layer</text>
<text transform="translate(200.80,705.79) scale(0.98,1)" font-size="9.7" text-anchor="middle" fill="#5a5a5a" stroke="#5a5a5a" stroke-width="0.3">Perceptron</text>
<text transform="translate(277.00,693.49) scale(0.95,1)" font-size="9.7" text-anchor="middle" fill="#5a5a5a" stroke="#5a5a5a" stroke-width="0.3">Naive Bayes</text>
<text transform="translate(350.30,693.49) scale(0.98,1)" font-size="9.7" text-anchor="middle" fill="#5a5a5a" stroke="#5a5a5a" stroke-width="0.3">SimpleLogistic</text>
<text transform="translate(424.00,693.49) scale(0.98,1)" font-size="9.7" text-anchor="middle" fill="#5a5a5a" stroke="#5a5a5a" stroke-width="0.3">Support</text>
<text transform="translate(424.00,705.79) scale(0.98,1)" font-size="9.7" text-anchor="middle" fill="#5a5a5a" stroke="#5a5a5a" stroke-width="0.3">Vector</text>
<text transform="translate(424.00,718.09) scale(0.98,1)" font-size="9.7" text-anchor="middle" fill="#5a5a5a" stroke="#5a5a5a" stroke-width="0.3">Machine</text>
<text transform="translate(310.50,727.00)" font-size="15.6" text-anchor="middle" fill="#505050" textLength="63" lengthAdjust="spacingAndGlyphs" stroke="#505050" stroke-width="0.2">Classifier</text>
<rect x="547.2" y="23.6" width="447.8" height="733.4" fill="#fff"/>
<g clip-path="url(#cs)">
<line x1="616.5" x2="961.3" y1="88.3" y2="88.3" stroke="#e2e2e2" stroke-width="1" stroke-dasharray="3 2.4"/>
<line x1="616.5" x2="961.3" y1="124.9" y2="124.9" stroke="#e2e2e2" stroke-width="1" stroke-dasharray="3 2.4"/>
<line x1="616.5" x2="961.3" y1="161.4" y2="161.4" stroke="#e2e2e2" stroke-width="1" stroke-dasharray="3 2.4"/>
<line x1="616.5" x2="961.3" y1="198.0" y2="198.0" stroke="#e2e2e2" stroke-width="1" stroke-dasharray="3 2.4"/>
<line x1="685.5" x2="685.5" y1="51.8" y2="226" stroke="#dcdcdc" stroke-width="1" stroke-dasharray="3 2.4"/>
<line x1="754.4" x2="754.4" y1="51.8" y2="226" stroke="#dcdcdc" stroke-width="1" stroke-dasharray="3 2.4"/>
<line x1="823.4" x2="823.4" y1="51.8" y2="226" stroke="#dcdcdc" stroke-width="1" stroke-dasharray="3 2.4"/>
<line x1="892.3" x2="892.3" y1="51.8" y2="226" stroke="#dcdcdc" stroke-width="1" stroke-dasharray="3 2.4"/>
<path d="M616.5,226 V51.8 H961.3 V226" fill="none" stroke="#d0d0d0" stroke-width="1.3"/>
<text transform="translate(608.50,56.07) scale(0.93,1)" font-size="10.2" text-anchor="end" fill="#555">50</text>
<text transform="translate(608.50,92.62) scale(0.93,1)" font-size="10.2" text-anchor="end" fill="#555">40</text>
<text transform="translate(608.50,129.17) scale(0.93,1)" font-size="10.2" text-anchor="end" fill="#555">30</text>
<text transform="translate(608.50,165.72) scale(0.93,1)" font-size="10.2" text-anchor="end" fill="#555">20</text>
<text transform="translate(608.50,202.27) scale(0.93,1)" font-size="10.2" text-anchor="end" fill="#555">10</text>
<text transform="translate(582.50,224.00) rotate(-90)" font-size="13" text-anchor="start" fill="#555" textLength="162.5" lengthAdjust="spacingAndGlyphs"><tspan font-weight="bold" fill="#2e2e2e">Pressure</tspan><tspan font-style="italic" dx="4"> (TekScan Sensor)</tspan></text>
<g fill="#e0813f">
<circle cx="617.7" cy="211.1" r="2.15"/>
<circle cx="616.9" cy="214.5" r="2.15"/>
<circle cx="616.4" cy="218.9" r="2.15"/>
<circle cx="617.2" cy="222.3" r="2.15"/>
<circle cx="620.3" cy="221.8" r="2.15"/>
<circle cx="625.5" cy="204.1" r="2.15"/>
<circle cx="629.4" cy="218.6" r="2.15"/>
<circle cx="633.3" cy="218.6" r="2.15"/>
<circle cx="639.3" cy="195.7" r="2.15"/>
<circle cx="644.3" cy="183.0" r="2.15"/>
<circle cx="652.9" cy="191.0" r="2.15"/>
<circle cx="662.5" cy="168.4" r="2.15"/>
<circle cx="662.8" cy="172.0" r="2.15"/>
<circle cx="672.9" cy="212.7" r="2.15"/>
<circle cx="666.4" cy="222.3" r="2.15"/>
<circle cx="664.6" cy="223.1" r="2.15"/>
<circle cx="688.8" cy="209.3" r="2.15"/>
<circle cx="702.6" cy="186.6" r="2.15"/>
<circle cx="703.9" cy="212.1" r="2.15"/>
<circle cx="712.5" cy="188.7" r="2.15"/>
<circle cx="721.4" cy="184.5" r="2.15"/>
<circle cx="722.9" cy="182.7" r="2.15"/>
<circle cx="724.5" cy="181.1" r="2.15"/>
<circle cx="733.3" cy="180.6" r="2.15"/>
<circle cx="731.0" cy="198.1" r="2.15"/>
<circle cx="739.8" cy="189.2" r="2.15"/>
<circle cx="730.5" cy="220.5" r="2.15"/>
<circle cx="732.3" cy="219.9" r="2.15"/>
<circle cx="738.8" cy="220.7" r="2.15"/>
<circle cx="742.4" cy="220.5" r="2.15"/>
<circle cx="747.1" cy="212.4" r="2.15"/>
<circle cx="750.3" cy="210.8" r="2.15"/>
<circle cx="754.2" cy="223.1" r="2.15"/>
<circle cx="755.7" cy="198.1" r="2.15"/>
<circle cx="756.8" cy="198.1" r="2.15"/>
<circle cx="780.2" cy="182.7" r="2.15"/>
<circle cx="779.2" cy="190.5" r="2.15"/>
<circle cx="787.5" cy="188.4" r="2.15"/>
<circle cx="789.6" cy="181.4" r="2.15"/>
<circle cx="795.8" cy="182.2" r="2.15"/>
<circle cx="797.4" cy="181.9" r="2.15"/>
<circle cx="796.1" cy="205.6" r="2.15"/>
<circle cx="798.4" cy="204.3" r="2.15"/>
<circle cx="629.4" cy="225.4" r="2.15"/>
<circle cx="639.1" cy="225.7" r="2.15"/>
<circle cx="657.8" cy="225.4" r="2.15"/>
<circle cx="723.7" cy="225.4" r="2.15"/>
<circle cx="727.6" cy="225.2" r="2.15"/>
<circle cx="798.8" cy="204.3" r="2.15"/>
<circle cx="804.2" cy="179.8" r="2.15"/>
<circle cx="806.6" cy="163.4" r="2.15"/>
<circle cx="809.4" cy="168.9" r="2.15"/>
<circle cx="808.1" cy="191.0" r="2.15"/>
<circle cx="811.8" cy="187.9" r="2.15"/>
<circle cx="815.9" cy="201.2" r="2.15"/>
<circle cx="825.1" cy="185.1" r="2.15"/>
<circle cx="826.1" cy="186.6" r="2.15"/>
<circle cx="833.6" cy="176.2" r="2.15"/>
<circle cx="832.9" cy="191.6" r="2.15"/>
<circle cx="842.5" cy="160.1" r="2.15"/>
<circle cx="843.0" cy="178.0" r="2.15"/>
<circle cx="850.8" cy="186.6" r="2.15"/>
<circle cx="852.4" cy="195.7" r="2.15"/>
<circle cx="854.0" cy="179.8" r="2.15"/>
<circle cx="856.3" cy="185.8" r="2.15"/>
<circle cx="856.0" cy="158.8" r="2.15"/>
<circle cx="861.8" cy="145.2" r="2.15"/>
<circle cx="861.8" cy="190.0" r="2.15"/>
<circle cx="873.8" cy="170.2" r="2.15"/>
<circle cx="879.0" cy="171.0" r="2.15"/>
<circle cx="876.4" cy="181.9" r="2.15"/>
<circle cx="881.8" cy="181.9" r="2.15"/>
<circle cx="882.3" cy="142.3" r="2.15"/>
<circle cx="883.9" cy="143.1" r="2.15"/>
<circle cx="884.7" cy="120.7" r="2.15"/>
<circle cx="890.7" cy="119.2" r="2.15"/>
<circle cx="882.9" cy="210.6" r="2.15"/>
<circle cx="889.1" cy="180.1" r="2.15"/>
<circle cx="894.1" cy="154.1" r="2.15"/>
<circle cx="895.9" cy="144.4" r="2.15"/>
<circle cx="895.1" cy="187.7" r="2.15"/>
<circle cx="897.7" cy="216.3" r="2.15"/>
<circle cx="899.3" cy="163.2" r="2.15"/>
<circle cx="900.3" cy="134.8" r="2.15"/>
<circle cx="908.4" cy="161.1" r="2.15"/>
<circle cx="911.0" cy="158.8" r="2.15"/>
<circle cx="912.0" cy="165.0" r="2.15"/>
<circle cx="914.4" cy="166.3" r="2.15"/>
<circle cx="911.0" cy="145.5" r="2.15"/>
<circle cx="915.4" cy="147.0" r="2.15"/>
<circle cx="909.4" cy="112.1" r="2.15"/>
<circle cx="909.9" cy="110.3" r="2.15"/>
<circle cx="922.7" cy="150.4" r="2.15"/>
<circle cx="923.5" cy="152.5" r="2.15"/>
<circle cx="923.0" cy="154.8" r="2.15"/>
<circle cx="925.3" cy="154.8" r="2.15"/>
<circle cx="927.9" cy="133.8" r="2.15"/>
<circle cx="934.7" cy="131.4" r="2.15"/>
<circle cx="933.6" cy="101.2" r="2.15"/>
<circle cx="936.2" cy="100.9" r="2.15"/>
<circle cx="936.5" cy="104.1" r="2.15"/>
<circle cx="936.0" cy="108.2" r="2.15"/>
<circle cx="935.2" cy="110.6" r="2.15"/>
<circle cx="937.6" cy="81.9" r="2.15"/>
</g>
<line x1="640" y1="226.7" x2="961.4" y2="136.9" stroke="#222" stroke-width="2"/>
</g>
<text transform="translate(609.60,246.80)" font-size="13.2" text-anchor="start" fill="#333" font-style="italic" textLength="27" lengthAdjust="spacingAndGlyphs">class</text>
<text transform="translate(665.30,247.20) scale(0.9,1)" font-size="13.4" text-anchor="end" fill="#2a2a2a" font-weight="bold">1</text>
<text transform="translate(697.80,247.20) scale(0.9,1)" font-size="13.4" text-anchor="end" fill="#2a2a2a" font-weight="bold">2</text>
<text transform="translate(730.30,247.20) scale(0.9,1)" font-size="13.4" text-anchor="end" fill="#2a2a2a" font-weight="bold">3</text>
<text transform="translate(762.80,247.20) scale(0.9,1)" font-size="13.4" text-anchor="end" fill="#2a2a2a" font-weight="bold">4</text>
<text transform="translate(795.50,247.20) scale(0.9,1)" font-size="13.4" text-anchor="end" fill="#2a2a2a" font-weight="bold">5</text>
<text transform="translate(828.20,247.20) scale(0.9,1)" font-size="13.4" text-anchor="end" fill="#2a2a2a" font-weight="bold">6</text>
<text transform="translate(860.80,247.20) scale(0.9,1)" font-size="13.4" text-anchor="end" fill="#2a2a2a" font-weight="bold">7</text>
<text transform="translate(893.50,247.20) scale(0.9,1)" font-size="13.4" text-anchor="end" fill="#2a2a2a" font-weight="bold">8</text>
<text transform="translate(926.00,247.20) scale(0.9,1)" font-size="13.4" text-anchor="end" fill="#2a2a2a" font-weight="bold">9</text>
<text transform="translate(958.40,247.20) scale(0.9,1)" font-size="13.4" text-anchor="end" fill="#2a2a2a" font-weight="bold">10</text>
<line x1="607.5" x2="969" y1="257" y2="257" stroke="#9a9a9a" stroke-width="1.2"/>
<line x1="638.8" x2="638.8" y1="257.5" y2="328" stroke="#cfcfcf" stroke-width="1" stroke-dasharray="3 2.4"/>
<text transform="translate(629.00,276.90) scale(0.9,1)" font-size="12.2" text-anchor="end" fill="#2a2a2a" font-weight="bold">1</text>
<text transform="translate(666.50,276.80)" font-size="12.3" text-anchor="end" fill="#2a2a2a" font-weight="bold" textLength="20.6" lengthAdjust="spacingAndGlyphs">235</text>
<text transform="translate(697.60,276.30) scale(0.86,1)" font-size="10.8" text-anchor="end" fill="#c6c6c6">0</text>
<text transform="translate(730.70,276.30) scale(0.9,1)" font-size="10.8" text-anchor="end" fill="#e08a55">1</text>
<text transform="translate(762.60,276.30) scale(0.86,1)" font-size="10.8" text-anchor="end" fill="#c6c6c6">0</text>
<text transform="translate(795.30,276.30) scale(0.86,1)" font-size="10.8" text-anchor="end" fill="#c6c6c6">0</text>
<text transform="translate(828.00,276.30) scale(0.86,1)" font-size="10.8" text-anchor="end" fill="#c6c6c6">0</text>
<text transform="translate(861.20,276.30) scale(0.9,1)" font-size="10.8" text-anchor="end" fill="#e08a55">18</text>
<text transform="translate(893.90,276.30) scale(0.9,1)" font-size="10.8" text-anchor="end" fill="#e08a55">3</text>
<text transform="translate(926.40,276.30) scale(0.9,1)" font-size="10.8" text-anchor="end" fill="#e08a55">2</text>
<text transform="translate(956.20,276.30) scale(0.9,1)" font-size="10.8" text-anchor="end" fill="#e08a55">1</text>
<text transform="translate(629.00,293.85) scale(0.9,1)" font-size="12.2" text-anchor="end" fill="#2a2a2a" font-weight="bold">2</text>
<text transform="translate(665.10,293.25) scale(0.86,1)" font-size="10.8" text-anchor="end" fill="#c6c6c6">0</text>
<text transform="translate(699.00,293.75)" font-size="12.3" text-anchor="end" fill="#2a2a2a" font-weight="bold" textLength="20.6" lengthAdjust="spacingAndGlyphs">240</text>
<text transform="translate(730.10,293.25) scale(0.86,1)" font-size="10.8" text-anchor="end" fill="#c6c6c6">0</text>
<text transform="translate(762.60,293.25) scale(0.86,1)" font-size="10.8" text-anchor="end" fill="#c6c6c6">0</text>
<text transform="translate(795.90,293.25) scale(0.9,1)" font-size="10.8" text-anchor="end" fill="#e08a55">5</text>
<text transform="translate(828.00,293.25) scale(0.86,1)" font-size="10.8" text-anchor="end" fill="#c6c6c6">0</text>
<text transform="translate(860.60,293.25) scale(0.86,1)" font-size="10.8" text-anchor="end" fill="#c6c6c6">0</text>
<text transform="translate(893.30,293.25) scale(0.86,1)" font-size="10.8" text-anchor="end" fill="#c6c6c6">0</text>
<text transform="translate(926.40,293.25) scale(0.9,1)" font-size="10.8" text-anchor="end" fill="#e08a55">15</text>
<text transform="translate(955.60,293.25) scale(0.86,1)" font-size="10.8" text-anchor="end" fill="#c6c6c6">0</text>
<text transform="translate(629.00,310.80) scale(0.9,1)" font-size="12.2" text-anchor="end" fill="#2a2a2a" font-weight="bold">3</text>
<text transform="translate(665.10,310.20) scale(0.86,1)" font-size="10.8" text-anchor="end" fill="#c6c6c6">0</text>
<text transform="translate(697.60,310.20) scale(0.86,1)" font-size="10.8" text-anchor="end" fill="#c6c6c6">0</text>
<text transform="translate(731.50,310.70)" font-size="12.3" text-anchor="end" fill="#2a2a2a" font-weight="bold" textLength="20.6" lengthAdjust="spacingAndGlyphs">187</text>
<text transform="translate(763.20,310.20) scale(0.9,1)" font-size="10.8" text-anchor="end" fill="#e08a55">5</text>
<text transform="translate(795.90,310.20) scale(0.9,1)" font-size="10.8" text-anchor="end" fill="#e08a55">1</text>
<text transform="translate(828.60,310.20) scale(0.9,1)" font-size="10.8" text-anchor="end" fill="#e08a55">2</text>
<text transform="translate(860.60,310.20) scale(0.86,1)" font-size="10.8" text-anchor="end" fill="#c6c6c6">0</text>
<text transform="translate(893.90,310.20) scale(0.9,1)" font-size="10.8" text-anchor="end" fill="#e08a55">28</text>
<text transform="translate(925.80,310.20) scale(0.86,1)" font-size="10.8" text-anchor="end" fill="#c6c6c6">0</text>
<text transform="translate(956.20,310.20) scale(0.9,1)" font-size="10.8" text-anchor="end" fill="#e08a55">37</text>
<text transform="translate(629.00,327.75) scale(0.9,1)" font-size="12.2" text-anchor="end" fill="#2a2a2a" font-weight="bold">4</text>
<text transform="translate(665.10,327.15) scale(0.86,1)" font-size="10.8" text-anchor="end" fill="#c6c6c6">0</text>
<text transform="translate(697.60,327.15) scale(0.86,1)" font-size="10.8" text-anchor="end" fill="#c6c6c6">0</text>
<text transform="translate(730.70,327.15) scale(0.9,1)" font-size="10.8" text-anchor="end" fill="#e08a55">3</text>
<text transform="translate(764.00,327.65)" font-size="12.3" text-anchor="end" fill="#2a2a2a" font-weight="bold" textLength="20.6" lengthAdjust="spacingAndGlyphs">244</text>
<text transform="translate(795.90,327.15) scale(0.9,1)" font-size="10.8" text-anchor="end" fill="#e08a55">1</text>
<text transform="translate(828.00,327.15) scale(0.86,1)" font-size="10.8" text-anchor="end" fill="#c6c6c6">0</text>
<text transform="translate(860.60,327.15) scale(0.86,1)" font-size="10.8" text-anchor="end" fill="#c6c6c6">0</text>
<text transform="translate(893.90,327.15) scale(0.9,1)" font-size="10.8" text-anchor="end" fill="#e08a55">10</text>
<text transform="translate(925.80,327.15) scale(0.86,1)" font-size="10.8" text-anchor="end" fill="#c6c6c6">0</text>
<text transform="translate(956.20,327.15) scale(0.9,1)" font-size="10.8" text-anchor="end" fill="#e08a55">2</text>
<defs><g id="heat">
<rect x="0" y="0" width="58.60" height="101.60" fill="#1f4fa3"/>
<g filter="url(#soft2)">
<rect x="14.65" y="19.35" width="4.98" height="4.94" fill="#225cb1"/>
<rect x="19.53" y="19.35" width="4.98" height="4.94" fill="#225cb1"/>
<rect x="24.42" y="19.35" width="4.98" height="4.94" fill="#225cb1"/>
<rect x="29.30" y="19.35" width="4.98" height="4.94" fill="#225cb1"/>
<rect x="34.18" y="19.35" width="4.98" height="4.94" fill="#225cb1"/>
<rect x="39.07" y="19.35" width="4.98" height="4.94" fill="#225cb1"/>
<rect x="14.65" y="24.19" width="4.98" height="4.94" fill="#225cb1"/>
<rect x="19.53" y="24.19" width="4.98" height="4.94" fill="#41aae4"/>
<rect x="24.42" y="24.19" width="4.98" height="4.94" fill="#41aae4"/>
<rect x="29.30" y="24.19" width="4.98" height="4.94" fill="#225cb1"/>
<rect x="34.18" y="24.19" width="4.98" height="4.94" fill="#389bdd"/>
<rect x="39.07" y="24.19" width="4.98" height="4.94" fill="#225cb1"/>
<rect x="14.65" y="29.03" width="4.98" height="4.94" fill="#276ebf"/>
<rect x="19.53" y="29.03" width="4.98" height="4.94" fill="#55bcdb"/>
<rect x="24.42" y="29.03" width="4.98" height="4.94" fill="#41aae4"/>
<rect x="29.30" y="29.03" width="4.98" height="4.94" fill="#276ebf"/>
<rect x="34.18" y="29.03" width="4.98" height="4.94" fill="#389bdd"/>
<rect x="39.07" y="29.03" width="4.98" height="4.94" fill="#276ebf"/>
<rect x="14.65" y="33.87" width="4.98" height="4.94" fill="#276ebf"/>
<rect x="19.53" y="33.87" width="4.98" height="4.94" fill="#55bcdb"/>
<rect x="24.42" y="33.87" width="4.98" height="4.94" fill="#55bcdb"/>
<rect x="29.30" y="33.87" width="4.98" height="4.94" fill="#308cd7"/>
<rect x="34.18" y="33.87" width="4.98" height="4.94" fill="#389bdd"/>
<rect x="39.07" y="33.87" width="4.98" height="4.94" fill="#276ebf"/>
<rect x="14.65" y="38.70" width="4.98" height="4.94" fill="#225cb1"/>
<rect x="19.53" y="38.70" width="4.98" height="4.94" fill="#41aae4"/>
<rect x="24.42" y="38.70" width="4.98" height="4.94" fill="#41aae4"/>
<rect x="29.30" y="38.70" width="4.98" height="4.94" fill="#308cd7"/>
<rect x="34.18" y="38.70" width="4.98" height="4.94" fill="#308cd7"/>
<rect x="39.07" y="38.70" width="4.98" height="4.94" fill="#225cb1"/>
<rect x="14.65" y="43.54" width="4.98" height="4.94" fill="#225cb1"/>
<rect x="19.53" y="43.54" width="4.98" height="4.94" fill="#225cb1"/>
<rect x="24.42" y="43.54" width="4.98" height="4.94" fill="#225cb1"/>
<rect x="29.30" y="43.54" width="4.98" height="4.94" fill="#225cb1"/>
<rect x="34.18" y="43.54" width="4.98" height="4.94" fill="#225cb1"/>
<rect x="39.07" y="43.54" width="4.98" height="4.94" fill="#225cb1"/>
<rect x="9.77" y="58.06" width="4.98" height="4.94" fill="#235fb4"/>
<rect x="14.65" y="58.06" width="4.98" height="4.94" fill="#235fb4"/>
<rect x="19.53" y="58.06" width="4.98" height="4.94" fill="#3596db"/>
<rect x="24.42" y="58.06" width="4.98" height="4.94" fill="#3596db"/>
<rect x="34.18" y="58.06" width="4.98" height="4.94" fill="#389bdd"/>
<rect x="39.07" y="58.06" width="4.98" height="4.94" fill="#389bdd"/>
<rect x="43.95" y="58.06" width="4.98" height="4.94" fill="#2464b7"/>
<rect x="9.77" y="62.90" width="4.98" height="4.94" fill="#2c7fcd"/>
<rect x="14.65" y="62.90" width="4.98" height="4.94" fill="#3596db"/>
<rect x="19.53" y="62.90" width="4.98" height="4.94" fill="#3596db"/>
<rect x="24.42" y="62.90" width="4.98" height="4.94" fill="#3596db"/>
<rect x="29.30" y="62.90" width="4.98" height="4.94" fill="#2464b7"/>
<rect x="34.18" y="62.90" width="4.98" height="4.94" fill="#389bdd"/>
<rect x="39.07" y="62.90" width="4.98" height="4.94" fill="#389bdd"/>
<rect x="43.95" y="62.90" width="4.98" height="4.94" fill="#308cd7"/>
<rect x="9.77" y="67.73" width="4.98" height="4.94" fill="#46b2e8"/>
<rect x="14.65" y="67.73" width="4.98" height="4.94" fill="#46b2e8"/>
<rect x="19.53" y="67.73" width="4.98" height="4.94" fill="#46b2e8"/>
<rect x="24.42" y="67.73" width="4.98" height="4.94" fill="#2c7fcd"/>
<rect x="29.30" y="67.73" width="4.98" height="4.94" fill="#2464b7"/>
<rect x="34.18" y="67.73" width="4.98" height="4.94" fill="#c8e16e"/>
<rect x="39.07" y="67.73" width="4.98" height="4.94" fill="#ea942e"/>
<rect x="43.95" y="67.73" width="4.98" height="4.94" fill="#aada8b"/>
<rect x="48.83" y="67.73" width="4.98" height="4.94" fill="#235fb4"/>
<rect x="9.77" y="72.57" width="4.98" height="4.94" fill="#46b2e8"/>
<rect x="14.65" y="72.57" width="4.98" height="4.94" fill="#46b2e8"/>
<rect x="19.53" y="72.57" width="4.98" height="4.94" fill="#46b2e8"/>
<rect x="24.42" y="72.57" width="4.98" height="4.94" fill="#2c7fcd"/>
<rect x="29.30" y="72.57" width="4.98" height="4.94" fill="#235fb4"/>
<rect x="34.18" y="72.57" width="4.98" height="4.94" fill="#c8e16e"/>
<rect x="39.07" y="72.57" width="4.98" height="4.94" fill="#ea942e"/>
<rect x="43.95" y="72.57" width="4.98" height="4.94" fill="#f0e146"/>
<rect x="48.83" y="72.57" width="4.98" height="4.94" fill="#235fb4"/>
<rect x="9.77" y="77.41" width="4.98" height="4.94" fill="#46b2e8"/>
<rect x="14.65" y="77.41" width="4.98" height="4.94" fill="#46b2e8"/>
<rect x="19.53" y="77.41" width="4.98" height="4.94" fill="#46b2e8"/>
<rect x="24.42" y="77.41" width="4.98" height="4.94" fill="#235fb4"/>
<rect x="34.18" y="77.41" width="4.98" height="4.94" fill="#4fb8e0"/>
<rect x="39.07" y="77.41" width="4.98" height="4.94" fill="#4fb8e0"/>
<rect x="43.95" y="77.41" width="4.98" height="4.94" fill="#308cd7"/>
<rect x="9.77" y="82.25" width="4.98" height="4.94" fill="#2464b7"/>
<rect x="14.65" y="82.25" width="4.98" height="4.94" fill="#3ea5e2"/>
<rect x="19.53" y="82.25" width="4.98" height="4.94" fill="#3ea5e2"/>
<rect x="24.42" y="82.25" width="4.98" height="4.94" fill="#3ea5e2"/>
<rect x="34.18" y="82.25" width="4.98" height="4.94" fill="#2464b7"/>
<rect x="39.07" y="82.25" width="4.98" height="4.94" fill="#308cd7"/>
<rect x="43.95" y="82.25" width="4.98" height="4.94" fill="#2464b7"/>
<rect x="9.77" y="87.09" width="4.98" height="4.94" fill="#235fb4"/>
<rect x="14.65" y="87.09" width="4.98" height="4.94" fill="#3ea5e2"/>
<rect x="19.53" y="87.09" width="4.98" height="4.94" fill="#6ecdc8"/>
<rect x="24.42" y="87.09" width="4.98" height="4.94" fill="#3ea5e2"/>
<rect x="9.77" y="91.92" width="4.98" height="4.94" fill="#235fb4"/>
<rect x="14.65" y="91.92" width="4.98" height="4.94" fill="#3ea5e2"/>
<rect x="19.53" y="91.92" width="4.98" height="4.94" fill="#3ea5e2"/>
<rect x="24.42" y="91.92" width="4.98" height="4.94" fill="#3ea5e2"/>
</g></g></defs>
<g transform="translate(648.6,345.4)">
<use href="#heat"/>
<rect x="5.18" y="9.98" width="4.28" height="4.24" fill="#fff" stroke="#f0a472" stroke-width="1"/>
<rect x="19.83" y="14.81" width="4.28" height="4.24" fill="#fff" stroke="#f0a472" stroke-width="1"/>
<rect x="39.37" y="5.14" width="4.28" height="4.24" fill="#fff" stroke="#f0a472" stroke-width="1"/>
<rect x="54.02" y="5.14" width="4.28" height="4.24" fill="#fff" stroke="#f0a472" stroke-width="1"/>
<rect x="10.07" y="29.33" width="4.28" height="4.24" fill="#fff" stroke="#f0a472" stroke-width="1"/>
<rect x="19.83" y="34.17" width="4.28" height="4.24" fill="#fff" stroke="#f0a472" stroke-width="1"/>
<rect x="44.25" y="29.33" width="4.28" height="4.24" fill="#fff" stroke="#f0a472" stroke-width="1"/>
<rect x="39.37" y="43.84" width="4.28" height="4.24" fill="#fff" stroke="#f0a472" stroke-width="1"/>
<rect x="10.07" y="53.04" width="4.28" height="4.24" fill="#fff" stroke="#f0a472" stroke-width="1"/>
<rect x="0.30" y="57.87" width="4.28" height="4.24" fill="#fff" stroke="#f0a472" stroke-width="1"/>
<rect x="34.48" y="57.87" width="4.28" height="4.24" fill="#fff" stroke="#f0a472" stroke-width="1"/>
<rect x="19.83" y="62.71" width="4.28" height="4.24" fill="#fff" stroke="#f0a472" stroke-width="1"/>
<rect x="14.95" y="82.06" width="4.28" height="4.24" fill="#fff" stroke="#f0a472" stroke-width="1"/>
<rect x="10.07" y="91.74" width="4.28" height="4.24" fill="#fff" stroke="#f0a472" stroke-width="1"/>
<rect x="19.83" y="91.74" width="4.28" height="4.24" fill="#fff" stroke="#f0a472" stroke-width="1"/>
<rect x="29.60" y="91.74" width="4.28" height="4.24" fill="#fff" stroke="#f0a472" stroke-width="1"/>
<rect x="39.37" y="91.74" width="4.28" height="4.24" fill="#fff" stroke="#f0a472" stroke-width="1"/>
<rect x="49.13" y="91.74" width="4.28" height="4.24" fill="#fff" stroke="#f0a472" stroke-width="1"/>
<rect x="34.48" y="96.58" width="4.28" height="4.24" fill="#fff" stroke="#f0a472" stroke-width="1"/>
<rect x="0" y="0" width="58.60" height="101.60" fill="none" stroke="#ee9f70" stroke-width="0.9"/>
<line x1="0" x2="58.60" y1="50.9" y2="50.9" stroke="#ee9f70" stroke-width="0.9"/>
</g>
<g transform="translate(722.6,345.4)">
<use href="#heat"/>
<rect x="44.25" y="0.78" width="4.28" height="4.24" fill="#fff" stroke="#f0a472" stroke-width="1"/>
<rect x="14.95" y="5.14" width="4.28" height="4.24" fill="#fff" stroke="#f0a472" stroke-width="1"/>
<rect x="29.60" y="9.98" width="4.28" height="4.24" fill="#fff" stroke="#f0a472" stroke-width="1"/>
<rect x="34.48" y="19.17" width="4.28" height="4.24" fill="#fff" stroke="#f0a472" stroke-width="1"/>
<rect x="0.30" y="19.17" width="4.28" height="4.24" fill="#fff" stroke="#f0a472" stroke-width="1"/>
<rect x="0.30" y="24.01" width="4.28" height="4.24" fill="#fff" stroke="#f0a472" stroke-width="1"/>
<rect x="44.25" y="39.00" width="4.28" height="4.24" fill="#fff" stroke="#f0a472" stroke-width="1"/>
<rect x="19.83" y="43.36" width="4.28" height="4.24" fill="#fff" stroke="#f0a472" stroke-width="1"/>
<rect x="29.60" y="45.78" width="4.28" height="4.24" fill="#fff" stroke="#f0a472" stroke-width="1"/>
<rect x="44.25" y="45.78" width="4.28" height="4.24" fill="#fff" stroke="#f0a472" stroke-width="1"/>
<rect x="10.07" y="53.04" width="4.28" height="4.24" fill="#fff" stroke="#f0a472" stroke-width="1"/>
<rect x="54.02" y="53.04" width="4.28" height="4.24" fill="#fff" stroke="#f0a472" stroke-width="1"/>
<rect x="0.30" y="58.36" width="4.28" height="4.24" fill="#fff" stroke="#f0a472" stroke-width="1"/>
<rect x="19.83" y="57.87" width="4.28" height="4.24" fill="#fff" stroke="#f0a472" stroke-width="1"/>
<rect x="34.48" y="62.23" width="4.28" height="4.24" fill="#fff" stroke="#f0a472" stroke-width="1"/>
<rect x="19.83" y="72.39" width="4.28" height="4.24" fill="#fff" stroke="#f0a472" stroke-width="1"/>
<rect x="44.25" y="72.39" width="4.28" height="4.24" fill="#fff" stroke="#f0a472" stroke-width="1"/>
<rect x="39.37" y="77.23" width="4.28" height="4.24" fill="#fff" stroke="#f0a472" stroke-width="1"/>
<rect x="5.18" y="82.06" width="4.28" height="4.24" fill="#fff" stroke="#f0a472" stroke-width="1"/>
<rect x="10.07" y="96.58" width="4.28" height="4.24" fill="#fff" stroke="#f0a472" stroke-width="1"/>
<rect x="19.83" y="96.58" width="4.28" height="4.24" fill="#fff" stroke="#f0a472" stroke-width="1"/>
<rect x="0" y="0" width="58.60" height="101.60" fill="none" stroke="#ee9f70" stroke-width="0.9"/>
<line x1="0" x2="58.60" y1="50.9" y2="50.9" stroke="#ee9f70" stroke-width="0.9"/>
</g>
<g transform="translate(797.0,345.4)">
<use href="#heat"/>
<rect x="19.83" y="0.78" width="4.28" height="4.24" fill="#fff" stroke="#f0a472" stroke-width="1"/>
<rect x="44.25" y="5.14" width="4.28" height="4.24" fill="#fff" stroke="#f0a472" stroke-width="1"/>
<rect x="5.18" y="9.98" width="4.28" height="4.24" fill="#fff" stroke="#f0a472" stroke-width="1"/>
<rect x="24.72" y="14.81" width="4.28" height="4.24" fill="#fff" stroke="#f0a472" stroke-width="1"/>
<rect x="54.02" y="14.81" width="4.28" height="4.24" fill="#fff" stroke="#f0a472" stroke-width="1"/>
<rect x="0.30" y="24.49" width="4.28" height="4.24" fill="#fff" stroke="#f0a472" stroke-width="1"/>
<rect x="49.13" y="28.84" width="4.28" height="4.24" fill="#fff" stroke="#f0a472" stroke-width="1"/>
<rect x="19.83" y="34.65" width="4.28" height="4.24" fill="#fff" stroke="#f0a472" stroke-width="1"/>
<rect x="5.18" y="39.00" width="4.28" height="4.24" fill="#fff" stroke="#f0a472" stroke-width="1"/>
<rect x="29.60" y="45.78" width="4.28" height="4.24" fill="#fff" stroke="#f0a472" stroke-width="1"/>
<rect x="54.02" y="51.10" width="4.28" height="4.24" fill="#fff" stroke="#f0a472" stroke-width="1"/>
<rect x="10.07" y="53.04" width="4.28" height="4.24" fill="#fff" stroke="#f0a472" stroke-width="1"/>
<rect x="24.72" y="62.71" width="4.28" height="4.24" fill="#fff" stroke="#f0a472" stroke-width="1"/>
<rect x="5.18" y="67.55" width="4.28" height="4.24" fill="#fff" stroke="#f0a472" stroke-width="1"/>
<rect x="49.13" y="67.55" width="4.28" height="4.24" fill="#fff" stroke="#f0a472" stroke-width="1"/>
<rect x="24.72" y="82.06" width="4.28" height="4.24" fill="#fff" stroke="#f0a472" stroke-width="1"/>
<rect x="54.02" y="82.06" width="4.28" height="4.24" fill="#fff" stroke="#f0a472" stroke-width="1"/>
<rect x="10.07" y="91.74" width="4.28" height="4.24" fill="#fff" stroke="#f0a472" stroke-width="1"/>
<rect x="44.25" y="91.26" width="4.28" height="4.24" fill="#fff" stroke="#f0a472" stroke-width="1"/>
<rect x="24.72" y="96.58" width="4.28" height="4.24" fill="#fff" stroke="#f0a472" stroke-width="1"/>
<rect x="0" y="0" width="58.60" height="101.60" fill="none" stroke="#ee9f70" stroke-width="0.9"/>
<line x1="0" x2="58.60" y1="50.9" y2="50.9" stroke="#ee9f70" stroke-width="0.9"/>
</g>
<g transform="translate(871.1,345.4)">
<use href="#heat"/>
<rect x="14.95" y="14.33" width="4.28" height="4.24" fill="#fff" stroke="#f0a472" stroke-width="1"/>
<rect x="19.83" y="14.33" width="4.28" height="4.24" fill="#fff" stroke="#f0a472" stroke-width="1"/>
<rect x="14.95" y="19.17" width="4.28" height="4.24" fill="#fff" stroke="#f0a472" stroke-width="1"/>
<rect x="19.83" y="19.17" width="4.28" height="4.24" fill="#fff" stroke="#f0a472" stroke-width="1"/>
<rect x="14.95" y="24.01" width="4.28" height="4.24" fill="#fff" stroke="#f0a472" stroke-width="1"/>
<rect x="39.37" y="13.85" width="4.28" height="4.24" fill="#fff" stroke="#f0a472" stroke-width="1"/>
<rect x="39.37" y="18.68" width="4.28" height="4.24" fill="#fff" stroke="#f0a472" stroke-width="1"/>
<rect x="44.25" y="28.84" width="4.28" height="4.24" fill="#fff" stroke="#f0a472" stroke-width="1"/>
<rect x="49.13" y="33.68" width="4.28" height="4.24" fill="#fff" stroke="#f0a472" stroke-width="1"/>
<rect x="14.95" y="86.90" width="4.28" height="4.24" fill="#fff" stroke="#f0a472" stroke-width="1"/>
<rect x="19.83" y="86.90" width="4.28" height="4.24" fill="#fff" stroke="#f0a472" stroke-width="1"/>
<rect x="14.95" y="91.74" width="4.28" height="4.24" fill="#fff" stroke="#f0a472" stroke-width="1"/>
<rect x="19.83" y="91.74" width="4.28" height="4.24" fill="#fff" stroke="#f0a472" stroke-width="1"/>
<rect x="24.72" y="91.74" width="4.28" height="4.24" fill="#fff" stroke="#f0a472" stroke-width="1"/>
<rect x="19.83" y="96.58" width="4.28" height="4.24" fill="#fff" stroke="#f0a472" stroke-width="1"/>
<rect x="39.37" y="86.90" width="4.28" height="4.24" fill="#fff" stroke="#f0a472" stroke-width="1"/>
<rect x="44.25" y="86.90" width="4.28" height="4.24" fill="#fff" stroke="#f0a472" stroke-width="1"/>
<rect x="39.37" y="91.74" width="4.28" height="4.24" fill="#fff" stroke="#f0a472" stroke-width="1"/>
<rect x="44.25" y="91.74" width="4.28" height="4.24" fill="#fff" stroke="#f0a472" stroke-width="1"/>
<rect x="0" y="0" width="58.60" height="101.60" fill="none" stroke="#ee9f70" stroke-width="0.9"/>
<line x1="0" x2="58.60" y1="50.9" y2="50.9" stroke="#ee9f70" stroke-width="0.9"/>
</g>
<text transform="translate(681.40,463.20)" font-size="10.8" text-anchor="middle" fill="#505050" textLength="61.6" lengthAdjust="spacingAndGlyphs" stroke="#505050" stroke-width="0.3">Near-Optimal</text>
<text transform="translate(751.70,463.20)" font-size="10.8" text-anchor="middle" fill="#505050" textLength="36.6" lengthAdjust="spacingAndGlyphs" stroke="#505050" stroke-width="0.3">Random</text>
<text transform="translate(828.30,463.20)" font-size="10.8" text-anchor="middle" fill="#505050" textLength="36.8" lengthAdjust="spacingAndGlyphs" stroke="#505050" stroke-width="0.3">Uniform</text>
<text transform="translate(901.00,463.20)" font-size="10.8" text-anchor="middle" fill="#505050" textLength="61.6" lengthAdjust="spacingAndGlyphs" stroke="#505050" stroke-width="0.3">Near-Optimal</text>
<text transform="translate(680.50,474.20)" font-size="8.7" text-anchor="middle" fill="#6a6a6a" font-style="italic" textLength="44.5" lengthAdjust="spacingAndGlyphs">(with respect</text>
<text transform="translate(680.50,484.40)" font-size="8.7" text-anchor="middle" fill="#6a6a6a" font-style="italic" textLength="40.2" lengthAdjust="spacingAndGlyphs">to features)</text>
<text transform="translate(900.30,474.20)" font-size="8.7" text-anchor="middle" fill="#6a6a6a" font-style="italic" textLength="44.5" lengthAdjust="spacingAndGlyphs">(with respect</text>
<text transform="translate(900.30,484.40)" font-size="8.7" text-anchor="middle" fill="#6a6a6a" font-style="italic" textLength="29" lengthAdjust="spacingAndGlyphs">to class)</text>
<line x1="630" x2="634" y1="493.6" y2="493.6" stroke="#717171" stroke-width="1.1"/>
<text transform="translate(625.50,496.84) scale(0.97,1)" font-size="9" text-anchor="end" fill="#505050" stroke="#505050" stroke-width="0.25">1.0</text>
<line x1="634" x2="947.6" y1="514.7" y2="514.7" stroke="#b9b9b9" stroke-width="1" stroke-dasharray="3.4 2.2"/>
<line x1="630" x2="634" y1="514.7" y2="514.7" stroke="#717171" stroke-width="1.1"/>
<text transform="translate(625.50,517.91) scale(0.97,1)" font-size="9" text-anchor="end" fill="#505050" stroke="#505050" stroke-width="0.25">0.9</text>
<line x1="634" x2="947.6" y1="535.7" y2="535.7" stroke="#b9b9b9" stroke-width="1" stroke-dasharray="3.4 2.2"/>
<line x1="630" x2="634" y1="535.7" y2="535.7" stroke="#717171" stroke-width="1.1"/>
<text transform="translate(625.50,538.98) scale(0.97,1)" font-size="9" text-anchor="end" fill="#505050" stroke="#505050" stroke-width="0.25">0.8</text>
<line x1="634" x2="947.6" y1="556.8" y2="556.8" stroke="#b9b9b9" stroke-width="1" stroke-dasharray="3.4 2.2"/>
<line x1="630" x2="634" y1="556.8" y2="556.8" stroke="#717171" stroke-width="1.1"/>
<text transform="translate(625.50,560.05) scale(0.97,1)" font-size="9" text-anchor="end" fill="#505050" stroke="#505050" stroke-width="0.25">0.7</text>
<line x1="634" x2="947.6" y1="577.9" y2="577.9" stroke="#b9b9b9" stroke-width="1" stroke-dasharray="3.4 2.2"/>
<line x1="630" x2="634" y1="577.9" y2="577.9" stroke="#717171" stroke-width="1.1"/>
<text transform="translate(625.50,581.12) scale(0.97,1)" font-size="9" text-anchor="end" fill="#505050" stroke="#505050" stroke-width="0.25">0.6</text>
<line x1="634" x2="947.6" y1="599.0" y2="599.0" stroke="#b9b9b9" stroke-width="1" stroke-dasharray="3.4 2.2"/>
<line x1="630" x2="634" y1="599.0" y2="599.0" stroke="#717171" stroke-width="1.1"/>
<text transform="translate(625.50,602.19) scale(0.97,1)" font-size="9" text-anchor="end" fill="#505050" stroke="#505050" stroke-width="0.25">0.5</text>
<line x1="634" x2="947.6" y1="620.0" y2="620.0" stroke="#b9b9b9" stroke-width="1" stroke-dasharray="3.4 2.2"/>
<line x1="630" x2="634" y1="620.0" y2="620.0" stroke="#717171" stroke-width="1.1"/>
<text transform="translate(625.50,623.26) scale(0.97,1)" font-size="9" text-anchor="end" fill="#505050" stroke="#505050" stroke-width="0.25">0.4</text>
<line x1="634" x2="947.6" y1="641.1" y2="641.1" stroke="#b9b9b9" stroke-width="1" stroke-dasharray="3.4 2.2"/>
<line x1="630" x2="634" y1="641.1" y2="641.1" stroke="#717171" stroke-width="1.1"/>
<text transform="translate(625.50,644.33) scale(0.97,1)" font-size="9" text-anchor="end" fill="#505050" stroke="#505050" stroke-width="0.25">0.3</text>
<line x1="634" x2="947.6" y1="662.2" y2="662.2" stroke="#b9b9b9" stroke-width="1" stroke-dasharray="3.4 2.2"/>
<line x1="630" x2="634" y1="662.2" y2="662.2" stroke="#717171" stroke-width="1.1"/>
<text transform="translate(625.50,665.40) scale(0.97,1)" font-size="9" text-anchor="end" fill="#505050" stroke="#505050" stroke-width="0.25">0.2</text>
<line x1="634" x2="947.6" y1="683.2" y2="683.2" stroke="#b9b9b9" stroke-width="1" stroke-dasharray="3.4 2.2"/>
<line x1="630" x2="634" y1="683.2" y2="683.2" stroke="#717171" stroke-width="1.1"/>
<text transform="translate(625.50,686.47) scale(0.97,1)" font-size="9" text-anchor="end" fill="#505050" stroke="#505050" stroke-width="0.25">0.1</text>
<line x1="630" x2="634" y1="704.3" y2="704.3" stroke="#717171" stroke-width="1.1"/>
<text transform="translate(625.50,707.54) scale(0.97,1)" font-size="9" text-anchor="end" fill="#505050" stroke="#505050" stroke-width="0.25">0.0</text>
<rect x="634" y="493.6" width="313.6" height="210.69999999999993" fill="none" stroke="#717171" stroke-width="1.2"/>
<rect x="657.5" y="526.9" width="42.2" height="177.4" fill="#fff" stroke="#e79a6e" stroke-width="1.3"/>
<path d="M678.6,523.9 V529.8 M676.4,523.9 h4.4 M676.4,529.8 h4.4" stroke="#5a5a5a" stroke-width="1" fill="none"/>
<text transform="translate(679.40,517.47) scale(0.97,1)" font-size="8.8" text-anchor="middle" fill="#555" stroke="#555" stroke-width="0.2">0.840</text>
<rect x="731" y="592.4" width="41.3" height="111.9" fill="#fff" stroke="#717171" stroke-width="1.3"/>
<path d="M751.6,586.7 V598.1 M749.4,586.7 h4.4 M749.4,598.1 h4.4" stroke="#5a5a5a" stroke-width="1" fill="none"/>
<text transform="translate(750.50,583.37) scale(0.97,1)" font-size="8.8" text-anchor="middle" fill="#555" stroke="#555" stroke-width="0.2">0.529</text>
<rect x="805.4" y="552.6" width="41.2" height="151.7" fill="#fff" stroke="#717171" stroke-width="1.3"/>
<path d="M826.0,549.0 V556.2 M823.8,549.0 h4.4 M823.8,556.2 h4.4" stroke="#5a5a5a" stroke-width="1" fill="none"/>
<text transform="translate(823.60,543.47) scale(0.97,1)" font-size="8.8" text-anchor="middle" fill="#555" stroke="#555" stroke-width="0.2">0.718</text>
<rect x="878.9" y="532.4" width="42.5" height="171.9" fill="#fff" stroke="#717171" stroke-width="1.3"/>
<path d="M900.1,528.2 V536.6 M897.9,528.2 h4.4 M897.9,536.6 h4.4" stroke="#5a5a5a" stroke-width="1" fill="none"/>
<text transform="translate(900.00,522.67) scale(0.97,1)" font-size="8.8" text-anchor="middle" fill="#555" stroke="#555" stroke-width="0.2">0.814</text>
<text transform="translate(600.00,599.50) rotate(-90)" font-size="15.6" text-anchor="middle" fill="#555" textLength="147" lengthAdjust="spacingAndGlyphs" stroke="#555" stroke-width="0.35">Classification Accuracy</text>
<line x1="714.3" x2="714.3" y1="340" y2="704" stroke="#f3bd9e" stroke-width="1" stroke-dasharray="2.6 2.6"/>
<line x1="789" x2="789" y1="340" y2="704" stroke="#f3bd9e" stroke-width="1" stroke-dasharray="2.6 2.6"/>
<line x1="863.4" x2="863.4" y1="340" y2="704" stroke="#f3bd9e" stroke-width="1" stroke-dasharray="2.6 2.6"/>
<text transform="translate(681.50,723.60)" font-size="11.2" text-anchor="middle" fill="#555" textLength="62.3" lengthAdjust="spacingAndGlyphs" stroke="#555" stroke-width="0.15">Near-Optimal</text>
<text transform="translate(752.00,723.60)" font-size="11.2" text-anchor="middle" fill="#555" textLength="37" lengthAdjust="spacingAndGlyphs" stroke="#555" stroke-width="0.15">Random</text>
<text transform="translate(827.00,723.60)" font-size="11.2" text-anchor="middle" fill="#555" textLength="37" lengthAdjust="spacingAndGlyphs" stroke="#555" stroke-width="0.15">Uniform</text>
<text transform="translate(901.30,723.60)" font-size="11.2" text-anchor="middle" fill="#555" textLength="62.3" lengthAdjust="spacingAndGlyphs" stroke="#555" stroke-width="0.15">Near-Optimal</text>
<text transform="translate(681.00,734.00)" font-size="8.4" text-anchor="middle" fill="#666" font-style="italic" textLength="89" lengthAdjust="spacingAndGlyphs">(with respect to features)</text>
<text transform="translate(900.50,734.00)" font-size="8.4" text-anchor="middle" fill="#666" font-style="italic" textLength="77" lengthAdjust="spacingAndGlyphs">(with respect to class)</text>
<text transform="translate(788.60,750.60)" font-size="14.6" text-anchor="middle" fill="#505050" textLength="65.7" lengthAdjust="spacingAndGlyphs" stroke="#505050" stroke-width="0.2">Placement</text>
</g>
</svg></body></html>
